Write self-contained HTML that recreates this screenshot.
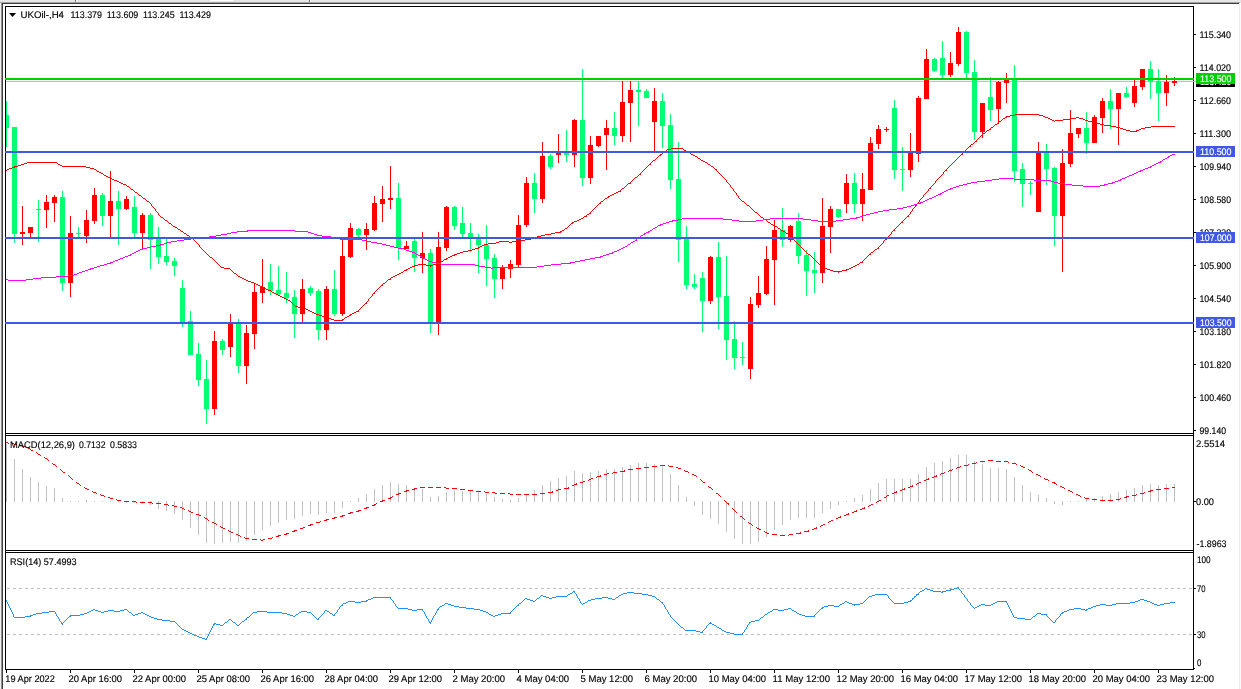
<!DOCTYPE html>
<html><head><meta charset="utf-8"><title>UKOil H4</title>
<style>html,body{margin:0;padding:0;background:#fff;overflow:hidden}svg{display:block}text{font-family:"Liberation Sans",sans-serif;font-size:9.6px;white-space:pre;text-rendering:geometricPrecision;filter:grayscale(1);stroke-width:0.15px}</style></head><body>
<svg width="1241" height="689" viewBox="0 0 1241 689" shape-rendering="crispEdges">
<rect x="0" y="0" width="1241" height="689" fill="#fff"/>
<rect x="0" y="0" width="1241" height="2" fill="#E6E6E6"/>
<rect x="0" y="2" width="1241" height="1" fill="#A4A4A4"/>
<rect x="1240" y="2" width="1" height="1" fill="#E6E6E6"/>
<rect x="1" y="3" width="1238" height="1" fill="#404040"/>
<rect x="0" y="3" width="1" height="686" fill="#F0F0F0"/>
<rect x="1" y="3" width="1" height="686" fill="#909090"/>
<rect x="2" y="3" width="1" height="686" fill="#404040"/>
<rect x="1239" y="3" width="1" height="686" fill="#ECECEC"/>
<rect x="1240" y="3" width="1" height="686" fill="#FAFAFA"/>
<rect x="75" y="0" width="1" height="2" fill="#707070"/>
<rect x="76" y="0" width="1" height="2" fill="#FFFFFF"/>
<rect x="309" y="0" width="1" height="2" fill="#707070"/>
<rect x="310" y="0" width="1" height="2" fill="#FFFFFF"/>
<rect x="210" y="0" width="23" height="1" fill="#FFFFFF"/>
<rect x="6" y="81" width="1187" height="1" fill="#C0C0C0"/>
<g>
<rect x="6" y="101" width="1" height="46" fill="#00FF72"/>
<rect x="6" y="115" width="3" height="13" fill="#00FF72"/>
<rect x="14" y="127" width="1" height="116" fill="#00FF72"/>
<rect x="12" y="127" width="5" height="107" fill="#00FF72"/>
<rect x="22" y="206" width="1" height="39" fill="#FF0000"/>
<rect x="20" y="232" width="5" height="2" fill="#FF0000"/>
<rect x="30" y="227" width="1" height="10" fill="#FF0000"/>
<rect x="28" y="227" width="5" height="6" fill="#FF0000"/>
<rect x="38" y="200" width="1" height="42" fill="#00FF72"/>
<rect x="36" y="209" width="5" height="1" fill="#00FF72"/>
<rect x="46" y="195" width="1" height="33" fill="#FF0000"/>
<rect x="44" y="202" width="5" height="8" fill="#FF0000"/>
<rect x="54" y="195" width="1" height="27" fill="#FF0000"/>
<rect x="52" y="197" width="5" height="6" fill="#FF0000"/>
<rect x="62" y="191" width="1" height="100" fill="#00FF72"/>
<rect x="60" y="197" width="5" height="86" fill="#00FF72"/>
<rect x="70" y="216" width="1" height="81" fill="#FF0000"/>
<rect x="68" y="233" width="5" height="50" fill="#FF0000"/>
<rect x="78" y="227" width="1" height="10" fill="#00FF72"/>
<rect x="76" y="233" width="5" height="1" fill="#00FF72"/>
<rect x="86" y="210" width="1" height="33" fill="#FF0000"/>
<rect x="84" y="220" width="5" height="16" fill="#FF0000"/>
<rect x="94" y="188" width="1" height="36" fill="#FF0000"/>
<rect x="92" y="195" width="5" height="26" fill="#FF0000"/>
<rect x="102" y="193" width="1" height="33" fill="#00FF72"/>
<rect x="100" y="195" width="5" height="21" fill="#00FF72"/>
<rect x="110" y="171" width="1" height="66" fill="#FF0000"/>
<rect x="108" y="201" width="5" height="15" fill="#FF0000"/>
<rect x="118" y="191" width="1" height="54" fill="#00FF72"/>
<rect x="116" y="201" width="5" height="8" fill="#00FF72"/>
<rect x="126" y="196" width="1" height="14" fill="#FF0000"/>
<rect x="124" y="199" width="5" height="10" fill="#FF0000"/>
<rect x="134" y="196" width="1" height="41" fill="#00FF72"/>
<rect x="132" y="207" width="5" height="26" fill="#00FF72"/>
<rect x="142" y="213" width="1" height="36" fill="#FF0000"/>
<rect x="140" y="215" width="5" height="18" fill="#FF0000"/>
<rect x="150" y="213" width="1" height="56" fill="#00FF72"/>
<rect x="148" y="215" width="5" height="25" fill="#00FF72"/>
<rect x="158" y="227" width="1" height="37" fill="#00FF72"/>
<rect x="156" y="239" width="5" height="18" fill="#00FF72"/>
<rect x="166" y="239" width="1" height="26" fill="#00FF72"/>
<rect x="164" y="256" width="5" height="6" fill="#00FF72"/>
<rect x="174" y="258" width="1" height="18" fill="#00FF72"/>
<rect x="172" y="261" width="5" height="5" fill="#00FF72"/>
<rect x="182" y="280" width="1" height="47" fill="#00FF72"/>
<rect x="180" y="288" width="5" height="34" fill="#00FF72"/>
<rect x="190" y="311" width="1" height="44" fill="#00FF72"/>
<rect x="188" y="321" width="5" height="34" fill="#00FF72"/>
<rect x="198" y="343" width="1" height="43" fill="#00FF72"/>
<rect x="196" y="354" width="5" height="26" fill="#00FF72"/>
<rect x="206" y="360" width="1" height="64" fill="#00FF72"/>
<rect x="204" y="379" width="5" height="30" fill="#00FF72"/>
<rect x="214" y="331" width="1" height="84" fill="#FF0000"/>
<rect x="212" y="341" width="5" height="68" fill="#FF0000"/>
<rect x="222" y="339" width="1" height="16" fill="#00FF72"/>
<rect x="220" y="341" width="5" height="9" fill="#00FF72"/>
<rect x="230" y="314" width="1" height="43" fill="#FF0000"/>
<rect x="228" y="324" width="5" height="23" fill="#FF0000"/>
<rect x="238" y="319" width="1" height="54" fill="#00FF72"/>
<rect x="236" y="324" width="5" height="42" fill="#00FF72"/>
<rect x="246" y="325" width="1" height="59" fill="#FF0000"/>
<rect x="244" y="333" width="5" height="33" fill="#FF0000"/>
<rect x="254" y="283" width="1" height="66" fill="#FF0000"/>
<rect x="252" y="292" width="5" height="42" fill="#FF0000"/>
<rect x="262" y="259" width="1" height="44" fill="#FF0000"/>
<rect x="260" y="287" width="5" height="6" fill="#FF0000"/>
<rect x="270" y="264" width="1" height="31" fill="#00FF72"/>
<rect x="268" y="282" width="5" height="9" fill="#00FF72"/>
<rect x="278" y="266" width="1" height="29" fill="#00FF72"/>
<rect x="276" y="290" width="5" height="4" fill="#00FF72"/>
<rect x="286" y="272" width="1" height="31" fill="#00FF72"/>
<rect x="284" y="293" width="5" height="5" fill="#00FF72"/>
<rect x="294" y="290" width="1" height="48" fill="#00FF72"/>
<rect x="292" y="297" width="5" height="17" fill="#00FF72"/>
<rect x="302" y="279" width="1" height="43" fill="#FF0000"/>
<rect x="300" y="289" width="5" height="25" fill="#FF0000"/>
<rect x="310" y="286" width="1" height="10" fill="#00FF72"/>
<rect x="308" y="288" width="5" height="5" fill="#00FF72"/>
<rect x="318" y="289" width="1" height="51" fill="#00FF72"/>
<rect x="316" y="291" width="5" height="39" fill="#00FF72"/>
<rect x="326" y="286" width="1" height="54" fill="#FF0000"/>
<rect x="324" y="289" width="5" height="41" fill="#FF0000"/>
<rect x="334" y="270" width="1" height="46" fill="#00FF72"/>
<rect x="332" y="289" width="5" height="25" fill="#00FF72"/>
<rect x="342" y="239" width="1" height="77" fill="#FF0000"/>
<rect x="340" y="256" width="5" height="58" fill="#FF0000"/>
<rect x="350" y="223" width="1" height="35" fill="#FF0000"/>
<rect x="348" y="228" width="5" height="29" fill="#FF0000"/>
<rect x="358" y="228" width="1" height="9" fill="#00FF72"/>
<rect x="356" y="229" width="5" height="6" fill="#00FF72"/>
<rect x="366" y="223" width="1" height="27" fill="#FF0000"/>
<rect x="364" y="229" width="5" height="6" fill="#FF0000"/>
<rect x="374" y="196" width="1" height="35" fill="#FF0000"/>
<rect x="372" y="203" width="5" height="27" fill="#FF0000"/>
<rect x="382" y="186" width="1" height="36" fill="#FF0000"/>
<rect x="380" y="199" width="5" height="5" fill="#FF0000"/>
<rect x="390" y="166" width="1" height="43" fill="#FF0000"/>
<rect x="388" y="198" width="5" height="2" fill="#FF0000"/>
<rect x="398" y="183" width="1" height="77" fill="#00FF72"/>
<rect x="396" y="198" width="5" height="50" fill="#00FF72"/>
<rect x="406" y="241" width="1" height="8" fill="#FF0000"/>
<rect x="404" y="246" width="5" height="3" fill="#FF0000"/>
<rect x="414" y="239" width="1" height="33" fill="#00FF72"/>
<rect x="412" y="241" width="5" height="17" fill="#00FF72"/>
<rect x="422" y="232" width="1" height="41" fill="#FF0000"/>
<rect x="420" y="253" width="5" height="5" fill="#FF0000"/>
<rect x="430" y="249" width="1" height="84" fill="#00FF72"/>
<rect x="428" y="253" width="5" height="70" fill="#00FF72"/>
<rect x="438" y="232" width="1" height="103" fill="#FF0000"/>
<rect x="436" y="247" width="5" height="76" fill="#FF0000"/>
<rect x="446" y="206" width="1" height="45" fill="#FF0000"/>
<rect x="444" y="207" width="5" height="41" fill="#FF0000"/>
<rect x="454" y="206" width="1" height="24" fill="#00FF72"/>
<rect x="452" y="207" width="5" height="19" fill="#00FF72"/>
<rect x="462" y="207" width="1" height="30" fill="#00FF72"/>
<rect x="460" y="223" width="5" height="11" fill="#00FF72"/>
<rect x="470" y="223" width="1" height="29" fill="#00FF72"/>
<rect x="468" y="233" width="5" height="6" fill="#00FF72"/>
<rect x="478" y="234" width="1" height="39" fill="#00FF72"/>
<rect x="476" y="238" width="5" height="7" fill="#00FF72"/>
<rect x="486" y="225" width="1" height="61" fill="#00FF72"/>
<rect x="484" y="245" width="5" height="14" fill="#00FF72"/>
<rect x="494" y="254" width="1" height="44" fill="#00FF72"/>
<rect x="492" y="258" width="5" height="21" fill="#00FF72"/>
<rect x="502" y="265" width="1" height="24" fill="#FF0000"/>
<rect x="500" y="267" width="5" height="12" fill="#FF0000"/>
<rect x="510" y="260" width="1" height="18" fill="#FF0000"/>
<rect x="508" y="264" width="5" height="5" fill="#FF0000"/>
<rect x="518" y="215" width="1" height="52" fill="#FF0000"/>
<rect x="516" y="225" width="5" height="40" fill="#FF0000"/>
<rect x="526" y="177" width="1" height="50" fill="#FF0000"/>
<rect x="524" y="183" width="5" height="42" fill="#FF0000"/>
<rect x="534" y="173" width="1" height="40" fill="#00FF72"/>
<rect x="532" y="183" width="5" height="16" fill="#00FF72"/>
<rect x="542" y="142" width="1" height="61" fill="#FF0000"/>
<rect x="540" y="156" width="5" height="43" fill="#FF0000"/>
<rect x="550" y="154" width="1" height="15" fill="#00FF72"/>
<rect x="548" y="156" width="5" height="11" fill="#00FF72"/>
<rect x="558" y="134" width="1" height="29" fill="#FF0000"/>
<rect x="556" y="152" width="5" height="3" fill="#FF0000"/>
<rect x="566" y="130" width="1" height="32" fill="#00FF72"/>
<rect x="564" y="152" width="5" height="3" fill="#00FF72"/>
<rect x="574" y="119" width="1" height="48" fill="#FF0000"/>
<rect x="572" y="120" width="5" height="35" fill="#FF0000"/>
<rect x="582" y="69" width="1" height="117" fill="#00FF72"/>
<rect x="580" y="120" width="5" height="58" fill="#00FF72"/>
<rect x="590" y="136" width="1" height="48" fill="#FF0000"/>
<rect x="588" y="145" width="5" height="33" fill="#FF0000"/>
<rect x="598" y="136" width="1" height="11" fill="#FF0000"/>
<rect x="596" y="136" width="5" height="10" fill="#FF0000"/>
<rect x="606" y="120" width="1" height="50" fill="#FF0000"/>
<rect x="604" y="128" width="5" height="7" fill="#FF0000"/>
<rect x="614" y="112" width="1" height="33" fill="#00FF72"/>
<rect x="612" y="128" width="5" height="8" fill="#00FF72"/>
<rect x="622" y="81" width="1" height="61" fill="#FF0000"/>
<rect x="620" y="102" width="5" height="34" fill="#FF0000"/>
<rect x="630" y="81" width="1" height="61" fill="#FF0000"/>
<rect x="628" y="90" width="5" height="13" fill="#FF0000"/>
<rect x="638" y="81" width="1" height="45" fill="#00FF72"/>
<rect x="636" y="90" width="5" height="2" fill="#00FF72"/>
<rect x="646" y="89" width="1" height="9" fill="#00FF72"/>
<rect x="644" y="91" width="5" height="7" fill="#00FF72"/>
<rect x="654" y="88" width="1" height="63" fill="#FF0000"/>
<rect x="652" y="101" width="5" height="21" fill="#FF0000"/>
<rect x="662" y="93" width="1" height="55" fill="#00FF72"/>
<rect x="660" y="101" width="5" height="25" fill="#00FF72"/>
<rect x="670" y="114" width="1" height="75" fill="#00FF72"/>
<rect x="668" y="125" width="5" height="55" fill="#00FF72"/>
<rect x="678" y="142" width="1" height="120" fill="#00FF72"/>
<rect x="676" y="179" width="5" height="61" fill="#00FF72"/>
<rect x="686" y="226" width="1" height="63" fill="#00FF72"/>
<rect x="684" y="238" width="5" height="47" fill="#00FF72"/>
<rect x="694" y="274" width="1" height="15" fill="#00FF72"/>
<rect x="692" y="284" width="5" height="3" fill="#00FF72"/>
<rect x="702" y="272" width="1" height="60" fill="#00FF72"/>
<rect x="700" y="278" width="5" height="23" fill="#00FF72"/>
<rect x="710" y="256" width="1" height="48" fill="#FF0000"/>
<rect x="708" y="257" width="5" height="44" fill="#FF0000"/>
<rect x="718" y="242" width="1" height="87" fill="#00FF72"/>
<rect x="716" y="257" width="5" height="40" fill="#00FF72"/>
<rect x="726" y="256" width="1" height="104" fill="#00FF72"/>
<rect x="724" y="296" width="5" height="44" fill="#00FF72"/>
<rect x="734" y="321" width="1" height="48" fill="#00FF72"/>
<rect x="732" y="339" width="5" height="19" fill="#00FF72"/>
<rect x="742" y="342" width="1" height="23" fill="#00FF72"/>
<rect x="740" y="357" width="5" height="1" fill="#00FF72"/>
<rect x="750" y="297" width="1" height="82" fill="#FF0000"/>
<rect x="748" y="304" width="5" height="65" fill="#FF0000"/>
<rect x="758" y="276" width="1" height="32" fill="#FF0000"/>
<rect x="756" y="293" width="5" height="12" fill="#FF0000"/>
<rect x="766" y="246" width="1" height="49" fill="#FF0000"/>
<rect x="764" y="259" width="5" height="35" fill="#FF0000"/>
<rect x="774" y="220" width="1" height="85" fill="#FF0000"/>
<rect x="772" y="230" width="5" height="30" fill="#FF0000"/>
<rect x="782" y="208" width="1" height="39" fill="#00FF72"/>
<rect x="780" y="230" width="5" height="10" fill="#00FF72"/>
<rect x="790" y="225" width="1" height="17" fill="#FF0000"/>
<rect x="788" y="226" width="5" height="14" fill="#FF0000"/>
<rect x="798" y="213" width="1" height="51" fill="#00FF72"/>
<rect x="796" y="221" width="5" height="35" fill="#00FF72"/>
<rect x="806" y="250" width="1" height="46" fill="#00FF72"/>
<rect x="804" y="255" width="5" height="16" fill="#00FF72"/>
<rect x="814" y="252" width="1" height="41" fill="#00FF72"/>
<rect x="812" y="270" width="5" height="3" fill="#00FF72"/>
<rect x="822" y="198" width="1" height="85" fill="#FF0000"/>
<rect x="820" y="226" width="5" height="47" fill="#FF0000"/>
<rect x="830" y="206" width="1" height="47" fill="#FF0000"/>
<rect x="828" y="209" width="5" height="18" fill="#FF0000"/>
<rect x="838" y="209" width="1" height="9" fill="#00FF72"/>
<rect x="836" y="209" width="5" height="8" fill="#00FF72"/>
<rect x="846" y="174" width="1" height="39" fill="#FF0000"/>
<rect x="844" y="183" width="5" height="21" fill="#FF0000"/>
<rect x="854" y="173" width="1" height="40" fill="#00FF72"/>
<rect x="852" y="183" width="5" height="21" fill="#00FF72"/>
<rect x="862" y="173" width="1" height="48" fill="#FF0000"/>
<rect x="860" y="189" width="5" height="15" fill="#FF0000"/>
<rect x="870" y="137" width="1" height="53" fill="#FF0000"/>
<rect x="868" y="143" width="5" height="47" fill="#FF0000"/>
<rect x="878" y="125" width="1" height="24" fill="#FF0000"/>
<rect x="876" y="129" width="5" height="15" fill="#FF0000"/>
<rect x="886" y="127" width="1" height="5" fill="#FF0000"/>
<rect x="884" y="129" width="5" height="1" fill="#FF0000"/>
<rect x="894" y="100" width="1" height="79" fill="#00FF72"/>
<rect x="892" y="108" width="5" height="62" fill="#00FF72"/>
<rect x="902" y="147" width="1" height="44" fill="#00FF72"/>
<rect x="900" y="169" width="5" height="1" fill="#00FF72"/>
<rect x="910" y="133" width="1" height="44" fill="#FF0000"/>
<rect x="908" y="151" width="5" height="19" fill="#FF0000"/>
<rect x="918" y="96" width="1" height="66" fill="#FF0000"/>
<rect x="916" y="98" width="5" height="56" fill="#FF0000"/>
<rect x="926" y="49" width="1" height="50" fill="#FF0000"/>
<rect x="924" y="59" width="5" height="40" fill="#FF0000"/>
<rect x="934" y="58" width="1" height="14" fill="#00FF72"/>
<rect x="932" y="59" width="5" height="12" fill="#00FF72"/>
<rect x="942" y="41" width="1" height="37" fill="#00FF72"/>
<rect x="940" y="58" width="5" height="17" fill="#00FF72"/>
<rect x="950" y="52" width="1" height="25" fill="#FF0000"/>
<rect x="948" y="63" width="5" height="12" fill="#FF0000"/>
<rect x="958" y="27" width="1" height="39" fill="#FF0000"/>
<rect x="956" y="32" width="5" height="32" fill="#FF0000"/>
<rect x="966" y="31" width="1" height="47" fill="#00FF72"/>
<rect x="964" y="32" width="5" height="41" fill="#00FF72"/>
<rect x="974" y="60" width="1" height="80" fill="#00FF72"/>
<rect x="972" y="72" width="5" height="60" fill="#00FF72"/>
<rect x="982" y="103" width="1" height="35" fill="#FF0000"/>
<rect x="980" y="103" width="5" height="29" fill="#FF0000"/>
<rect x="990" y="77" width="1" height="44" fill="#00FF72"/>
<rect x="988" y="97" width="5" height="13" fill="#00FF72"/>
<rect x="998" y="81" width="1" height="41" fill="#FF0000"/>
<rect x="996" y="82" width="5" height="27" fill="#FF0000"/>
<rect x="1006" y="73" width="1" height="30" fill="#FF0000"/>
<rect x="1004" y="79" width="5" height="4" fill="#FF0000"/>
<rect x="1014" y="65" width="1" height="117" fill="#00FF72"/>
<rect x="1012" y="78" width="5" height="93" fill="#00FF72"/>
<rect x="1022" y="163" width="1" height="44" fill="#00FF72"/>
<rect x="1020" y="169" width="5" height="15" fill="#00FF72"/>
<rect x="1030" y="181" width="1" height="14" fill="#00FF72"/>
<rect x="1028" y="183" width="5" height="1" fill="#00FF72"/>
<rect x="1038" y="142" width="1" height="70" fill="#FF0000"/>
<rect x="1036" y="151" width="5" height="61" fill="#FF0000"/>
<rect x="1046" y="144" width="1" height="41" fill="#00FF72"/>
<rect x="1044" y="151" width="5" height="18" fill="#00FF72"/>
<rect x="1054" y="167" width="1" height="79" fill="#00FF72"/>
<rect x="1052" y="168" width="5" height="48" fill="#00FF72"/>
<rect x="1062" y="149" width="1" height="123" fill="#FF0000"/>
<rect x="1060" y="163" width="5" height="53" fill="#FF0000"/>
<rect x="1070" y="110" width="1" height="57" fill="#FF0000"/>
<rect x="1068" y="133" width="5" height="31" fill="#FF0000"/>
<rect x="1078" y="128" width="1" height="10" fill="#FF0000"/>
<rect x="1076" y="128" width="5" height="6" fill="#FF0000"/>
<rect x="1086" y="112" width="1" height="42" fill="#00FF72"/>
<rect x="1084" y="128" width="5" height="15" fill="#00FF72"/>
<rect x="1094" y="115" width="1" height="28" fill="#FF0000"/>
<rect x="1092" y="117" width="5" height="26" fill="#FF0000"/>
<rect x="1102" y="98" width="1" height="35" fill="#FF0000"/>
<rect x="1100" y="101" width="5" height="17" fill="#FF0000"/>
<rect x="1110" y="89" width="1" height="40" fill="#00FF72"/>
<rect x="1108" y="101" width="5" height="8" fill="#00FF72"/>
<rect x="1118" y="93" width="1" height="52" fill="#FF0000"/>
<rect x="1116" y="93" width="5" height="16" fill="#FF0000"/>
<rect x="1126" y="87" width="1" height="11" fill="#00FF72"/>
<rect x="1124" y="93" width="5" height="4" fill="#00FF72"/>
<rect x="1134" y="80" width="1" height="27" fill="#FF0000"/>
<rect x="1132" y="86" width="5" height="17" fill="#FF0000"/>
<rect x="1142" y="69" width="1" height="21" fill="#FF0000"/>
<rect x="1140" y="69" width="5" height="18" fill="#FF0000"/>
<rect x="1150" y="61" width="1" height="38" fill="#00FF72"/>
<rect x="1148" y="69" width="5" height="13" fill="#00FF72"/>
<rect x="1158" y="69" width="1" height="52" fill="#00FF72"/>
<rect x="1156" y="81" width="5" height="12" fill="#00FF72"/>
<rect x="1166" y="75" width="1" height="31" fill="#FF0000"/>
<rect x="1164" y="82" width="5" height="11" fill="#FF0000"/>
<rect x="1174" y="77" width="1" height="9" fill="#FF0000"/>
<rect x="1172" y="81" width="5" height="2" fill="#FF0000"/>
</g>
<path d="M5 170h2v1h-2zM7 169h2v1h-2zM9 168h3v1h-3zM12 167h2v1h-2zM14 166h1v2h-1zM15 166h3v1h-3zM18 165h3v1h-3zM21 164h3v1h-3zM24 163h3v1h-3zM27 162h30v1h-30zM57 163h1v1h-1zM58 164h2v1h-2zM60 165h2v1h-2zM62 166h24v1h-24zM86 167h4v1h-4zM90 168h4v1h-4zM94 169h2v1h-2zM96 170h1v1h-1zM97 171h2v1h-2zM99 172h2v1h-2zM101 173h2v1h-2zM103 174h1v1h-1zM104 175h2v1h-2zM106 176h2v1h-2zM108 177h2v1h-2zM110 178h2v1h-2zM112 179h2v1h-2zM114 180h3v1h-3zM117 181h2v1h-2zM119 182h2v1h-2zM121 183h2v1h-2zM123 184h3v1h-3zM126 185h1v1h-1zM127 186h2v1h-2zM129 187h1v1h-1zM130 188h1v1h-1zM131 189h2v1h-2zM133 190h1v1h-1zM134 191h1v1h-1zM135 192h2v1h-2zM137 193h1v1h-1zM138 194h1v1h-1zM139 195h2v1h-2zM141 196h1v1h-1zM142 197h1v1h-1zM143 198h2v1h-2zM145 199h1v1h-1zM146 200h1v1h-1zM147 201h2v1h-2zM149 202h1v1h-1zM150 203h1v1h-1zM151 204h1v2h-1zM152 206h1v1h-1zM153 207h1v1h-1zM154 208h1v1h-1zM155 209h1v2h-1zM156 211h1v1h-1zM157 212h1v1h-1zM158 213h1v2h-1zM159 215h1v1h-1zM160 216h1v1h-1zM161 217h2v1h-2zM163 218h1v1h-1zM164 219h1v1h-1zM165 220h2v1h-2zM167 221h1v1h-1zM168 222h1v1h-1zM169 223h2v1h-2zM171 224h1v1h-1zM172 225h1v1h-1zM173 226h2v1h-2zM175 227h2v1h-2zM177 228h1v1h-1zM178 229h2v1h-2zM180 230h1v1h-1zM181 231h2v1h-2zM183 232h1v1h-1zM184 233h2v1h-2zM186 234h1v1h-1zM187 235h2v1h-2zM189 236h1v1h-1zM190 237h1v1h-1zM191 238h2v1h-2zM193 239h1v1h-1zM194 240h1v1h-1zM195 241h1v1h-1zM196 242h1v1h-1zM197 243h1v1h-1zM198 244h1v1h-1zM199 245h1v2h-1zM200 247h1v1h-1zM201 248h1v1h-1zM202 249h1v1h-1zM203 250h1v1h-1zM204 251h1v1h-1zM205 252h1v1h-1zM206 253h1v1h-1zM207 254h1v1h-1zM208 255h1v1h-1zM209 256h1v1h-1zM210 257h2v1h-2zM212 258h1v1h-1zM213 259h1v1h-1zM214 260h1v1h-1zM215 261h1v1h-1zM216 262h1v1h-1zM217 263h1v1h-1zM218 264h1v1h-1zM219 265h1v1h-1zM220 266h1v1h-1zM221 267h3v1h-3zM224 268h6v1h-6zM230 269h1v1h-1zM231 270h1v1h-1zM232 271h1v1h-1zM233 272h1v1h-1zM234 273h2v1h-2zM236 274h1v1h-1zM237 275h1v1h-1zM238 276h2v1h-2zM240 277h2v1h-2zM242 278h2v1h-2zM244 279h2v1h-2zM246 280h2v1h-2zM248 281h3v1h-3zM251 282h3v1h-3zM254 283h2v1h-2zM256 284h2v1h-2zM258 285h2v1h-2zM260 286h2v1h-2zM262 287h2v1h-2zM264 288h2v1h-2zM266 289h2v1h-2zM268 290h3v1h-3zM271 291h1v1h-1zM272 292h2v1h-2zM274 293h2v1h-2zM276 294h2v1h-2zM278 295h2v1h-2zM280 296h2v1h-2zM282 297h2v1h-2zM284 298h2v1h-2zM286 299h2v1h-2zM288 300h2v1h-2zM290 301h1v1h-1zM291 302h1v1h-1zM292 303h1v1h-1zM293 304h1v1h-1zM294 305h1v1h-1zM295 306h3v1h-3zM298 307h5v1h-5zM303 308h3v1h-3zM306 309h2v1h-2zM308 310h2v1h-2zM310 311h2v1h-2zM312 312h2v1h-2zM314 313h2v1h-2zM316 314h3v1h-3zM319 315h3v1h-3zM322 316h3v1h-3zM325 317h3v1h-3zM328 318h3v1h-3zM331 319h3v1h-3zM334 320h8v1h-8zM342 319h1v2h-1zM343 319h1v1h-1zM344 318h1v1h-1zM345 317h2v1h-2zM347 316h2v1h-2zM349 315h1v1h-1zM350 314h1v2h-1zM351 314h1v1h-1zM352 313h2v1h-2zM354 312h2v1h-2zM356 311h2v1h-2zM358 310h1v2h-1zM359 309h1v1h-1zM360 308h1v1h-1zM361 307h1v1h-1zM362 306h1v1h-1zM363 305h1v1h-1zM364 304h1v1h-1zM365 303h1v1h-1zM366 302h1v2h-1zM367 301h1v1h-1zM368 299h1v2h-1zM369 298h1v1h-1zM370 297h1v1h-1zM371 296h1v1h-1zM372 294h1v2h-1zM373 293h1v1h-1zM374 292h1v2h-1zM375 291h1v1h-1zM376 290h1v1h-1zM377 289h1v1h-1zM378 288h1v1h-1zM379 287h1v1h-1zM380 286h1v1h-1zM381 285h1v1h-1zM382 284h1v2h-1zM383 283h2v1h-2zM385 282h1v1h-1zM386 281h1v1h-1zM387 280h1v1h-1zM388 279h2v1h-2zM390 278h1v2h-1zM391 277h2v1h-2zM393 276h2v1h-2zM395 275h2v1h-2zM397 274h2v1h-2zM399 273h2v1h-2zM401 272h2v1h-2zM403 271h1v1h-1zM404 270h2v1h-2zM406 269h1v2h-1zM407 269h1v1h-1zM408 268h2v1h-2zM410 267h2v1h-2zM412 266h2v1h-2zM414 265h1v2h-1zM415 265h3v1h-3zM418 264h8v1h-8zM426 265h4v1h-4zM430 265h1v2h-1zM431 265h2v1h-2zM433 264h3v1h-3zM436 263h3v1h-3zM439 262h2v1h-2zM441 261h2v1h-2zM443 260h1v1h-1zM444 259h2v1h-2zM446 258h1v2h-1zM447 258h1v1h-1zM448 257h2v1h-2zM450 256h2v1h-2zM452 255h2v1h-2zM454 254h1v2h-1zM455 254h2v1h-2zM457 253h3v1h-3zM460 252h3v1h-3zM463 251h5v1h-5zM468 250h4v1h-4zM472 249h3v1h-3zM475 248h3v1h-3zM478 247h1v2h-1zM479 247h1v1h-1zM480 246h2v1h-2zM482 245h2v1h-2zM484 244h4v1h-4zM488 243h8v1h-8zM496 242h3v1h-3zM499 241h10v1h-10zM509 242h3v1h-3zM512 241h7v1h-7zM519 240h6v1h-6zM525 239h5v1h-5zM530 238h1v2h-1zM531 238h3v1h-3zM534 237h3v1h-3zM537 236h4v1h-4zM541 235h4v1h-4zM545 234h6v1h-6zM551 233h4v1h-4zM555 232h5v1h-5zM560 231h1v2h-1zM561 231h1v1h-1zM562 230h2v1h-2zM564 229h1v1h-1zM565 228h2v1h-2zM567 227h1v1h-1zM568 226h1v1h-1zM569 225h1v1h-1zM570 224h1v1h-1zM571 223h1v1h-1zM572 222h1v2h-1zM573 222h1v1h-1zM574 221h3v1h-3zM577 220h2v1h-2zM579 219h2v1h-2zM581 218h2v1h-2zM583 217h1v1h-1zM584 216h2v1h-2zM586 215h1v2h-1zM587 214h2v1h-2zM589 213h1v1h-1zM590 212h1v2h-1zM591 211h1v1h-1zM592 210h1v1h-1zM593 209h1v1h-1zM594 208h1v1h-1zM595 207h1v1h-1zM596 206h1v1h-1zM597 205h1v1h-1zM598 204h1v1h-1zM599 203h1v1h-1zM600 202h1v2h-1zM601 201h2v1h-2zM603 200h1v1h-1zM604 199h1v1h-1zM605 198h2v1h-2zM607 197h1v1h-1zM608 196h1v2h-1zM609 196h1v1h-1zM610 195h2v1h-2zM612 194h2v1h-2zM614 193h2v1h-2zM616 192h2v1h-2zM618 191h2v1h-2zM620 190h1v2h-1zM621 189h1v1h-1zM622 188h2v1h-2zM624 187h1v1h-1zM625 186h1v1h-1zM626 185h1v1h-1zM627 184h1v1h-1zM628 183h2v1h-2zM630 182h1v2h-1zM631 181h1v1h-1zM632 180h1v1h-1zM633 179h1v1h-1zM634 178h1v1h-1zM635 177h2v1h-2zM637 176h1v1h-1zM638 175h1v1h-1zM639 174h1v1h-1zM640 173h1v2h-1zM641 172h1v1h-1zM642 171h1v1h-1zM643 170h1v1h-1zM644 169h1v1h-1zM645 168h1v1h-1zM646 167h1v1h-1zM647 166h1v1h-1zM648 165h1v1h-1zM649 164h1v1h-1zM650 163h1v2h-1zM651 162h1v1h-1zM652 161h1v1h-1zM653 160h2v1h-2zM655 159h1v1h-1zM656 158h1v1h-1zM657 157h1v1h-1zM658 156h1v1h-1zM659 155h1v1h-1zM660 154h1v2h-1zM661 154h1v1h-1zM662 153h1v1h-1zM663 152h1v1h-1zM664 151h2v1h-2zM666 150h1v1h-1zM667 149h4v1h-4zM671 148h12v1h-12zM683 149h1v1h-1zM684 150h2v1h-2zM686 151h2v1h-2zM688 152h2v1h-2zM690 153h1v1h-1zM691 154h2v1h-2zM693 155h2v1h-2zM695 156h2v1h-2zM697 157h1v1h-1zM698 158h2v1h-2zM700 159h1v1h-1zM701 160h2v1h-2zM703 161h2v1h-2zM705 162h2v1h-2zM707 163h1v1h-1zM708 164h2v1h-2zM710 165h1v1h-1zM711 166h2v1h-2zM713 167h1v1h-1zM714 168h1v1h-1zM715 169h1v1h-1zM716 169h1v2h-1zM717 171h1v1h-1zM718 172h1v1h-1zM719 173h1v1h-1zM720 174h1v1h-1zM721 175h1v1h-1zM722 176h1v1h-1zM723 177h1v1h-1zM724 178h1v1h-1zM725 179h1v1h-1zM726 180h1v2h-1zM727 182h1v1h-1zM728 183h1v1h-1zM729 184h1v1h-1zM730 185h1v2h-1zM731 187h1v1h-1zM732 188h1v1h-1zM733 189h1v2h-1zM734 191h1v1h-1zM735 192h1v1h-1zM736 193h1v2h-1zM737 195h1v1h-1zM738 196h1v2h-1zM739 198h1v1h-1zM740 199h1v1h-1zM741 200h1v1h-1zM742 201h2v1h-2zM744 202h1v1h-1zM745 203h1v1h-1zM746 204h1v1h-1zM747 205h2v1h-2zM749 206h1v1h-1zM750 207h1v1h-1zM751 208h1v1h-1zM752 209h1v1h-1zM753 210h1v1h-1zM754 211h1v1h-1zM755 212h2v1h-2zM757 213h1v1h-1zM758 214h1v1h-1zM759 215h1v1h-1zM760 216h1v1h-1zM761 217h2v1h-2zM763 218h1v1h-1zM764 219h2v1h-2zM766 220h1v1h-1zM767 221h1v1h-1zM768 222h2v1h-2zM770 223h1v1h-1zM771 224h2v1h-2zM773 225h2v1h-2zM775 226h2v1h-2zM777 227h1v1h-1zM778 228h2v1h-2zM780 229h1v1h-1zM781 230h2v1h-2zM783 231h2v1h-2zM785 232h1v1h-1zM786 233h2v1h-2zM788 234h1v1h-1zM789 235h1v1h-1zM790 236h1v1h-1zM791 237h1v1h-1zM792 238h1v1h-1zM793 239h1v1h-1zM794 240h1v1h-1zM795 241h1v1h-1zM796 242h1v1h-1zM797 243h1v1h-1zM798 244h1v1h-1zM799 245h1v1h-1zM800 246h1v1h-1zM801 247h1v1h-1zM802 248h1v1h-1zM803 249h1v1h-1zM804 250h1v1h-1zM805 251h1v1h-1zM806 252h1v1h-1zM807 253h1v1h-1zM808 254h2v1h-2zM810 255h1v1h-1zM811 256h1v1h-1zM812 257h1v1h-1zM813 258h1v1h-1zM814 259h1v1h-1zM815 260h1v1h-1zM816 261h1v1h-1zM817 262h1v1h-1zM818 263h1v1h-1zM819 264h1v1h-1zM820 265h1v1h-1zM821 266h2v1h-2zM823 267h2v1h-2zM825 268h2v1h-2zM827 269h3v1h-3zM830 270h3v1h-3zM833 271h5v1h-5zM838 271h1v2h-1zM839 271h3v1h-3zM842 270h4v1h-4zM846 269h1v2h-1zM847 269h2v1h-2zM849 268h2v1h-2zM851 267h2v1h-2zM853 266h2v1h-2zM855 265h2v1h-2zM857 264h2v1h-2zM859 263h1v1h-1zM860 262h2v1h-2zM862 261h1v2h-1zM863 260h1v1h-1zM864 259h1v1h-1zM865 258h1v1h-1zM866 257h1v1h-1zM867 256h1v1h-1zM868 255h1v1h-1zM869 254h1v1h-1zM870 253h1v2h-1zM871 252h2v1h-2zM873 251h1v1h-1zM874 250h1v1h-1zM875 249h2v1h-2zM877 248h1v1h-1zM878 247h1v2h-1zM879 246h1v1h-1zM880 245h1v1h-1zM881 244h1v1h-1zM882 243h1v1h-1zM883 241h1v2h-1zM884 240h1v1h-1zM885 239h1v1h-1zM886 238h1v2h-1zM887 237h1v1h-1zM888 236h1v1h-1zM889 235h1v1h-1zM890 234h1v1h-1zM891 232h1v2h-1zM892 231h1v1h-1zM893 230h1v1h-1zM894 229h1v2h-1zM895 228h1v1h-1zM896 227h1v1h-1zM897 226h1v1h-1zM898 225h1v1h-1zM899 224h1v1h-1zM900 223h1v1h-1zM901 222h1v1h-1zM902 221h1v2h-1zM903 220h1v1h-1zM904 219h1v1h-1zM905 218h1v1h-1zM906 217h1v1h-1zM907 216h1v1h-1zM908 215h1v2h-1zM909 214h1v1h-1zM910 212h1v2h-1zM911 211h1v1h-1zM912 209h1v2h-1zM913 208h1v1h-1zM914 207h1v1h-1zM915 205h1v2h-1zM916 204h1v2h-1zM917 203h1v1h-1zM918 202h1v1h-1zM919 200h1v2h-1zM920 199h1v1h-1zM921 198h1v1h-1zM922 197h1v1h-1zM923 195h1v2h-1zM924 194h1v1h-1zM925 193h1v1h-1zM926 192h1v1h-1zM927 191h1v1h-1zM928 189h1v2h-1zM929 188h1v1h-1zM930 187h1v2h-1zM931 186h1v1h-1zM932 185h1v1h-1zM933 184h1v1h-1zM934 183h1v1h-1zM935 181h1v2h-1zM936 180h1v1h-1zM937 179h1v1h-1zM938 178h1v1h-1zM939 177h1v1h-1zM940 176h1v1h-1zM941 175h1v1h-1zM942 174h1v1h-1zM943 172h1v2h-1zM944 171h1v1h-1zM945 170h1v1h-1zM946 169h1v2h-1zM947 168h1v1h-1zM948 167h1v1h-1zM949 166h1v1h-1zM950 165h1v1h-1zM951 164h1v1h-1zM952 163h1v1h-1zM953 162h1v1h-1zM954 161h1v1h-1zM955 160h1v1h-1zM956 159h1v1h-1zM957 158h1v1h-1zM958 157h1v1h-1zM959 156h1v1h-1zM960 155h1v1h-1zM961 154h1v1h-1zM962 153h1v2h-1zM963 152h1v1h-1zM964 151h1v1h-1zM965 150h1v1h-1zM966 149h1v1h-1zM967 148h1v1h-1zM968 147h1v1h-1zM969 146h1v1h-1zM970 145h1v2h-1zM971 144h2v1h-2zM973 143h1v1h-1zM974 142h1v1h-1zM975 141h1v1h-1zM976 140h1v2h-1zM977 139h1v1h-1zM978 138h1v1h-1zM979 137h1v1h-1zM980 136h1v1h-1zM981 135h1v1h-1zM982 134h1v2h-1zM983 133h2v1h-2zM985 132h1v1h-1zM986 131h1v1h-1zM987 130h2v1h-2zM989 129h1v1h-1zM990 128h1v2h-1zM991 127h2v1h-2zM993 126h1v1h-1zM994 125h1v1h-1zM995 124h2v1h-2zM997 123h1v1h-1zM998 122h1v2h-1zM999 121h2v1h-2zM1001 120h1v1h-1zM1002 119h1v1h-1zM1003 118h2v1h-2zM1005 117h1v1h-1zM1006 116h1v2h-1zM1007 116h3v1h-3zM1010 115h5v1h-5zM1015 114h24v1h-24zM1039 115h4v1h-4zM1043 116h2v1h-2zM1045 117h3v1h-3zM1048 118h2v1h-2zM1050 119h2v1h-2zM1052 120h2v1h-2zM1054 121h1v1h-1zM1055 120h8v1h-8zM1063 119h8v1h-8zM1071 118h5v1h-5zM1076 117h3v1h-3zM1079 118h4v1h-4zM1083 119h2v1h-2zM1085 120h3v1h-3zM1088 121h4v1h-4zM1092 122h4v1h-4zM1096 123h4v1h-4zM1100 124h4v1h-4zM1104 125h7v1h-7zM1111 126h5v1h-5zM1116 127h4v1h-4zM1120 128h3v1h-3zM1123 129h3v1h-3zM1126 130h4v1h-4zM1130 131h6v1h-6zM1136 130h1v2h-1zM1137 130h2v1h-2zM1139 129h2v1h-2zM1141 128h4v1h-4zM1145 127h6v1h-6zM1151 126h24v1h-24z" fill="#FF0000"/>
<path d="M5 279h3v1h-3zM8 280h18v1h-18zM26 279h7v1h-7zM33 278h8v1h-8zM41 277h15v1h-15zM56 276h12v1h-12zM68 275h6v1h-6zM74 274h3v1h-3zM77 273h2v1h-2zM79 272h3v1h-3zM82 271h3v1h-3zM85 270h3v1h-3zM88 269h2v1h-2zM90 268h1v2h-1zM91 268h3v1h-3zM94 267h3v1h-3zM97 266h3v1h-3zM100 265h4v1h-4zM104 264h3v1h-3zM107 263h3v1h-3zM110 262h1v2h-1zM111 262h2v1h-2zM113 261h2v1h-2zM115 260h3v1h-3zM118 259h2v1h-2zM120 258h3v1h-3zM123 257h2v1h-2zM125 256h3v1h-3zM128 255h2v1h-2zM130 254h1v2h-1zM131 254h1v1h-1zM132 253h2v1h-2zM134 252h2v1h-2zM136 251h2v1h-2zM138 250h2v1h-2zM140 249h2v1h-2zM142 248h1v2h-1zM143 248h4v1h-4zM147 247h4v1h-4zM151 246h5v1h-5zM156 245h4v1h-4zM160 244h1v2h-1zM161 244h3v1h-3zM164 243h3v1h-3zM167 242h4v1h-4zM171 241h6v1h-6zM177 240h7v1h-7zM184 239h7v1h-7zM191 238h10v1h-10zM201 237h8v1h-8zM209 236h7v1h-7zM216 235h5v1h-5zM221 234h6v1h-6zM227 233h4v1h-4zM231 232h6v1h-6zM237 231h10v1h-10zM247 230h1v2h-1zM248 230h47v1h-47zM295 231h13v1h-13zM308 232h3v1h-3zM311 233h3v1h-3zM314 234h3v1h-3zM317 235h5v1h-5zM322 236h9v1h-9zM331 237h4v1h-4zM335 238h5v1h-5zM340 239h22v1h-22zM362 240h4v1h-4zM366 241h5v1h-5zM371 242h6v1h-6zM377 243h5v1h-5zM382 244h4v1h-4zM386 245h4v1h-4zM390 246h4v1h-4zM394 247h4v1h-4zM398 248h6v1h-6zM404 249h2v1h-2zM406 250h3v1h-3zM409 251h3v1h-3zM412 252h3v1h-3zM415 253h1v1h-1zM416 254h2v1h-2zM418 255h2v1h-2zM420 256h2v1h-2zM422 257h1v1h-1zM423 258h2v1h-2zM425 259h2v1h-2zM427 260h2v1h-2zM429 261h3v1h-3zM432 262h4v1h-4zM436 263h5v1h-5zM441 264h34v1h-34zM475 265h4v1h-4zM479 266h6v1h-6zM485 267h6v1h-6zM491 268h2v1h-2zM493 267h44v1h-44zM537 266h7v1h-7zM544 265h7v1h-7zM551 264h10v1h-10zM561 263h9v1h-9zM570 262h1v2h-1zM571 262h4v1h-4zM575 261h5v1h-5zM580 260h5v1h-5zM585 259h5v1h-5zM590 258h5v1h-5zM595 257h5v1h-5zM600 256h1v2h-1zM601 256h2v1h-2zM603 255h3v1h-3zM606 254h3v1h-3zM609 253h3v1h-3zM612 252h1v2h-1zM613 252h1v1h-1zM614 251h3v1h-3zM617 250h2v1h-2zM619 249h2v1h-2zM621 248h2v1h-2zM623 247h2v1h-2zM625 246h2v1h-2zM627 245h1v1h-1zM628 244h2v1h-2zM630 243h1v1h-1zM631 242h2v1h-2zM633 241h2v1h-2zM635 240h1v1h-1zM636 239h1v2h-1zM637 238h2v1h-2zM639 237h1v1h-1zM640 236h1v1h-1zM641 235h2v1h-2zM643 234h1v1h-1zM644 233h1v2h-1zM645 233h1v1h-1zM646 232h2v1h-2zM648 231h1v2h-1zM649 231h1v1h-1zM650 230h2v1h-2zM652 229h1v1h-1zM653 228h2v1h-2zM655 227h2v1h-2zM657 226h1v1h-1zM658 225h2v1h-2zM660 224h1v2h-1zM661 224h2v1h-2zM663 223h3v1h-3zM666 222h3v1h-3zM669 221h3v1h-3zM672 220h1v2h-1zM673 220h5v1h-5zM678 219h4v1h-4zM682 218h41v1h-41zM723 219h9v1h-9zM732 220h7v1h-7zM739 221h17v1h-17zM756 220h7v1h-7zM763 219h7v1h-7zM770 218h33v1h-33zM803 219h8v1h-8zM811 220h7v1h-7zM818 221h18v1h-18zM836 220h7v1h-7zM843 219h7v1h-7zM850 218h6v1h-6zM856 217h1v2h-1zM857 217h3v1h-3zM860 216h3v1h-3zM863 215h3v1h-3zM866 214h4v1h-4zM870 213h4v1h-4zM874 212h4v1h-4zM878 211h5v1h-5zM883 210h6v1h-6zM889 209h8v1h-8zM897 208h6v1h-6zM903 207h4v1h-4zM907 206h4v1h-4zM911 205h3v1h-3zM914 204h3v1h-3zM917 203h3v1h-3zM920 202h1v2h-1zM921 202h2v1h-2zM923 201h2v1h-2zM925 200h2v1h-2zM927 199h2v1h-2zM929 198h3v1h-3zM932 197h2v1h-2zM934 196h2v1h-2zM936 195h2v1h-2zM938 194h2v1h-2zM940 193h1v2h-1zM941 193h1v1h-1zM942 192h2v1h-2zM944 191h2v1h-2zM946 190h2v1h-2zM948 189h2v1h-2zM950 188h1v2h-1zM951 188h2v1h-2zM953 187h3v1h-3zM956 186h3v1h-3zM959 185h4v1h-4zM963 184h4v1h-4zM967 183h4v1h-4zM971 182h6v1h-6zM977 181h8v1h-8zM985 180h7v1h-7zM992 179h7v1h-7zM999 178h15v1h-15zM1014 179h20v1h-20zM1034 180h17v1h-17zM1051 181h3v1h-3zM1054 182h4v1h-4zM1058 183h7v1h-7zM1065 184h7v1h-7zM1072 185h11v1h-11zM1083 186h17v1h-17zM1100 185h4v1h-4zM1104 184h1v2h-1zM1105 184h3v1h-3zM1108 183h4v1h-4zM1112 182h1v2h-1zM1113 182h2v1h-2zM1115 181h3v1h-3zM1118 180h2v1h-2zM1120 179h1v2h-1zM1121 179h1v1h-1zM1122 178h3v1h-3zM1125 177h2v1h-2zM1127 176h2v1h-2zM1129 175h3v1h-3zM1132 174h2v1h-2zM1134 173h2v1h-2zM1136 172h2v1h-2zM1138 171h2v1h-2zM1140 170h1v2h-1zM1141 170h2v1h-2zM1143 169h2v1h-2zM1145 168h3v1h-3zM1148 167h2v1h-2zM1150 166h1v2h-1zM1151 166h1v1h-1zM1152 165h2v1h-2zM1154 164h2v1h-2zM1156 163h2v1h-2zM1158 162h2v1h-2zM1160 161h1v2h-1zM1161 161h1v1h-1zM1162 160h1v1h-1zM1163 159h2v1h-2zM1165 158h2v1h-2zM1167 157h1v1h-1zM1168 156h1v2h-1zM1169 156h1v1h-1zM1170 155h2v1h-2zM1172 154h3v1h-3z" fill="#FF00FF"/>
<rect x="5" y="78" width="1189" height="2" fill="#00D000"/>
<rect x="5" y="151" width="1189" height="2" fill="#4058E6"/>
<rect x="5" y="237" width="1189" height="2" fill="#4058E6"/>
<rect x="5" y="322" width="1189" height="2" fill="#4058E6"/>
<rect x="6" y="444" width="1" height="58" fill="#C0C0C0"/>
<rect x="14" y="459" width="1" height="43" fill="#C0C0C0"/>
<rect x="22" y="469" width="1" height="33" fill="#C0C0C0"/>
<rect x="30" y="477" width="1" height="25" fill="#C0C0C0"/>
<rect x="38" y="482" width="1" height="20" fill="#C0C0C0"/>
<rect x="46" y="486" width="1" height="16" fill="#C0C0C0"/>
<rect x="54" y="488" width="1" height="14" fill="#C0C0C0"/>
<rect x="62" y="498" width="1" height="4" fill="#C0C0C0"/>
<rect x="70" y="501" width="1" height="1" fill="#C0C0C0"/>
<rect x="78" y="501" width="1" height="1" fill="#C0C0C0"/>
<rect x="86" y="500" width="1" height="2" fill="#C0C0C0"/>
<rect x="94" y="501" width="1" height="1" fill="#C0C0C0"/>
<rect x="102" y="501" width="1" height="1" fill="#C0C0C0"/>
<rect x="110" y="501" width="1" height="1" fill="#C0C0C0"/>
<rect x="118" y="501" width="1" height="1" fill="#C0C0C0"/>
<rect x="126" y="501" width="1" height="2" fill="#C0C0C0"/>
<rect x="134" y="501" width="1" height="2" fill="#C0C0C0"/>
<rect x="142" y="501" width="1" height="3" fill="#C0C0C0"/>
<rect x="150" y="501" width="1" height="4" fill="#C0C0C0"/>
<rect x="158" y="501" width="1" height="8" fill="#C0C0C0"/>
<rect x="166" y="501" width="1" height="10" fill="#C0C0C0"/>
<rect x="174" y="501" width="1" height="13" fill="#C0C0C0"/>
<rect x="182" y="501" width="1" height="19" fill="#C0C0C0"/>
<rect x="190" y="501" width="1" height="27" fill="#C0C0C0"/>
<rect x="198" y="501" width="1" height="34" fill="#C0C0C0"/>
<rect x="206" y="501" width="1" height="42" fill="#C0C0C0"/>
<rect x="214" y="501" width="1" height="43" fill="#C0C0C0"/>
<rect x="222" y="501" width="1" height="42" fill="#C0C0C0"/>
<rect x="230" y="501" width="1" height="41" fill="#C0C0C0"/>
<rect x="238" y="501" width="1" height="42" fill="#C0C0C0"/>
<rect x="246" y="501" width="1" height="40" fill="#C0C0C0"/>
<rect x="254" y="501" width="1" height="34" fill="#C0C0C0"/>
<rect x="262" y="501" width="1" height="29" fill="#C0C0C0"/>
<rect x="270" y="501" width="1" height="25" fill="#C0C0C0"/>
<rect x="278" y="501" width="1" height="22" fill="#C0C0C0"/>
<rect x="286" y="501" width="1" height="19" fill="#C0C0C0"/>
<rect x="294" y="501" width="1" height="18" fill="#C0C0C0"/>
<rect x="302" y="501" width="1" height="15" fill="#C0C0C0"/>
<rect x="310" y="501" width="1" height="13" fill="#C0C0C0"/>
<rect x="318" y="501" width="1" height="14" fill="#C0C0C0"/>
<rect x="326" y="501" width="1" height="12" fill="#C0C0C0"/>
<rect x="334" y="501" width="1" height="12" fill="#C0C0C0"/>
<rect x="342" y="501" width="1" height="7" fill="#C0C0C0"/>
<rect x="350" y="501" width="1" height="1" fill="#C0C0C0"/>
<rect x="358" y="498" width="1" height="4" fill="#C0C0C0"/>
<rect x="366" y="494" width="1" height="8" fill="#C0C0C0"/>
<rect x="374" y="489" width="1" height="13" fill="#C0C0C0"/>
<rect x="382" y="485" width="1" height="17" fill="#C0C0C0"/>
<rect x="390" y="482" width="1" height="20" fill="#C0C0C0"/>
<rect x="398" y="484" width="1" height="18" fill="#C0C0C0"/>
<rect x="406" y="485" width="1" height="17" fill="#C0C0C0"/>
<rect x="414" y="489" width="1" height="13" fill="#C0C0C0"/>
<rect x="422" y="489" width="1" height="13" fill="#C0C0C0"/>
<rect x="430" y="497" width="1" height="5" fill="#C0C0C0"/>
<rect x="438" y="496" width="1" height="6" fill="#C0C0C0"/>
<rect x="446" y="492" width="1" height="10" fill="#C0C0C0"/>
<rect x="454" y="491" width="1" height="11" fill="#C0C0C0"/>
<rect x="462" y="491" width="1" height="11" fill="#C0C0C0"/>
<rect x="470" y="491" width="1" height="11" fill="#C0C0C0"/>
<rect x="478" y="492" width="1" height="10" fill="#C0C0C0"/>
<rect x="486" y="494" width="1" height="8" fill="#C0C0C0"/>
<rect x="494" y="497" width="1" height="5" fill="#C0C0C0"/>
<rect x="502" y="499" width="1" height="3" fill="#C0C0C0"/>
<rect x="510" y="500" width="1" height="2" fill="#C0C0C0"/>
<rect x="518" y="498" width="1" height="4" fill="#C0C0C0"/>
<rect x="526" y="494" width="1" height="8" fill="#C0C0C0"/>
<rect x="534" y="490" width="1" height="12" fill="#C0C0C0"/>
<rect x="542" y="485" width="1" height="17" fill="#C0C0C0"/>
<rect x="550" y="481" width="1" height="21" fill="#C0C0C0"/>
<rect x="558" y="478" width="1" height="24" fill="#C0C0C0"/>
<rect x="566" y="476" width="1" height="26" fill="#C0C0C0"/>
<rect x="574" y="471" width="1" height="31" fill="#C0C0C0"/>
<rect x="582" y="473" width="1" height="29" fill="#C0C0C0"/>
<rect x="590" y="472" width="1" height="30" fill="#C0C0C0"/>
<rect x="598" y="471" width="1" height="31" fill="#C0C0C0"/>
<rect x="606" y="469" width="1" height="33" fill="#C0C0C0"/>
<rect x="614" y="469" width="1" height="33" fill="#C0C0C0"/>
<rect x="622" y="467" width="1" height="35" fill="#C0C0C0"/>
<rect x="630" y="465" width="1" height="37" fill="#C0C0C0"/>
<rect x="638" y="463" width="1" height="39" fill="#C0C0C0"/>
<rect x="646" y="463" width="1" height="39" fill="#C0C0C0"/>
<rect x="654" y="464" width="1" height="38" fill="#C0C0C0"/>
<rect x="662" y="467" width="1" height="35" fill="#C0C0C0"/>
<rect x="670" y="474" width="1" height="28" fill="#C0C0C0"/>
<rect x="678" y="485" width="1" height="17" fill="#C0C0C0"/>
<rect x="686" y="497" width="1" height="5" fill="#C0C0C0"/>
<rect x="694" y="501" width="1" height="5" fill="#C0C0C0"/>
<rect x="702" y="501" width="1" height="14" fill="#C0C0C0"/>
<rect x="710" y="501" width="1" height="18" fill="#C0C0C0"/>
<rect x="718" y="501" width="1" height="23" fill="#C0C0C0"/>
<rect x="726" y="501" width="1" height="31" fill="#C0C0C0"/>
<rect x="734" y="501" width="1" height="38" fill="#C0C0C0"/>
<rect x="742" y="501" width="1" height="43" fill="#C0C0C0"/>
<rect x="750" y="501" width="1" height="43" fill="#C0C0C0"/>
<rect x="758" y="501" width="1" height="41" fill="#C0C0C0"/>
<rect x="766" y="501" width="1" height="36" fill="#C0C0C0"/>
<rect x="774" y="501" width="1" height="29" fill="#C0C0C0"/>
<rect x="782" y="501" width="1" height="24" fill="#C0C0C0"/>
<rect x="790" y="501" width="1" height="19" fill="#C0C0C0"/>
<rect x="798" y="501" width="1" height="17" fill="#C0C0C0"/>
<rect x="806" y="501" width="1" height="17" fill="#C0C0C0"/>
<rect x="814" y="501" width="1" height="17" fill="#C0C0C0"/>
<rect x="822" y="501" width="1" height="12" fill="#C0C0C0"/>
<rect x="830" y="501" width="1" height="8" fill="#C0C0C0"/>
<rect x="838" y="501" width="1" height="4" fill="#C0C0C0"/>
<rect x="846" y="501" width="1" height="1" fill="#C0C0C0"/>
<rect x="854" y="498" width="1" height="4" fill="#C0C0C0"/>
<rect x="862" y="495" width="1" height="7" fill="#C0C0C0"/>
<rect x="870" y="489" width="1" height="13" fill="#C0C0C0"/>
<rect x="878" y="483" width="1" height="19" fill="#C0C0C0"/>
<rect x="886" y="479" width="1" height="23" fill="#C0C0C0"/>
<rect x="894" y="479" width="1" height="23" fill="#C0C0C0"/>
<rect x="902" y="479" width="1" height="23" fill="#C0C0C0"/>
<rect x="910" y="479" width="1" height="23" fill="#C0C0C0"/>
<rect x="918" y="474" width="1" height="28" fill="#C0C0C0"/>
<rect x="926" y="467" width="1" height="35" fill="#C0C0C0"/>
<rect x="934" y="463" width="1" height="39" fill="#C0C0C0"/>
<rect x="942" y="461" width="1" height="41" fill="#C0C0C0"/>
<rect x="950" y="458" width="1" height="44" fill="#C0C0C0"/>
<rect x="958" y="455" width="1" height="47" fill="#C0C0C0"/>
<rect x="966" y="455" width="1" height="47" fill="#C0C0C0"/>
<rect x="974" y="461" width="1" height="41" fill="#C0C0C0"/>
<rect x="982" y="464" width="1" height="38" fill="#C0C0C0"/>
<rect x="990" y="468" width="1" height="34" fill="#C0C0C0"/>
<rect x="998" y="468" width="1" height="34" fill="#C0C0C0"/>
<rect x="1006" y="469" width="1" height="33" fill="#C0C0C0"/>
<rect x="1014" y="477" width="1" height="25" fill="#C0C0C0"/>
<rect x="1022" y="485" width="1" height="17" fill="#C0C0C0"/>
<rect x="1030" y="492" width="1" height="10" fill="#C0C0C0"/>
<rect x="1038" y="495" width="1" height="7" fill="#C0C0C0"/>
<rect x="1046" y="498" width="1" height="4" fill="#C0C0C0"/>
<rect x="1054" y="501" width="1" height="3" fill="#C0C0C0"/>
<rect x="1062" y="501" width="1" height="4" fill="#C0C0C0"/>
<rect x="1070" y="501" width="1" height="1" fill="#C0C0C0"/>
<rect x="1078" y="501" width="1" height="1" fill="#C0C0C0"/>
<rect x="1086" y="499" width="1" height="3" fill="#C0C0C0"/>
<rect x="1094" y="498" width="1" height="4" fill="#C0C0C0"/>
<rect x="1102" y="496" width="1" height="6" fill="#C0C0C0"/>
<rect x="1110" y="494" width="1" height="8" fill="#C0C0C0"/>
<rect x="1118" y="492" width="1" height="10" fill="#C0C0C0"/>
<rect x="1126" y="490" width="1" height="12" fill="#C0C0C0"/>
<rect x="1134" y="488" width="1" height="14" fill="#C0C0C0"/>
<rect x="1142" y="485" width="1" height="17" fill="#C0C0C0"/>
<rect x="1150" y="484" width="1" height="18" fill="#C0C0C0"/>
<rect x="1158" y="485" width="1" height="17" fill="#C0C0C0"/>
<rect x="1166" y="484" width="1" height="18" fill="#C0C0C0"/>
<rect x="1174" y="484" width="1" height="18" fill="#C0C0C0"/>
<path d="M6 442h2v1h-2zM8 443h1v1h-1zM12 443h2v1h-2zM14 444h3v1h-3zM20 445h2v1h-2zM22 446h3v1h-3zM28 448h2v1h-2zM30 449h1v1h-1zM31 450h2v1h-2zM36 452h1v1h-1zM37 453h1v1h-1zM38 454h2v1h-2zM40 455h1v1h-1zM44 457h1v1h-1zM45 458h2v1h-2zM47 459h1v1h-1zM48 460h1v1h-1zM52 463h1v1h-1zM53 464h2v1h-2zM55 465h1v1h-1zM56 466h1v1h-1zM60 469h1v1h-1zM61 470h1v1h-1zM62 471h1v1h-1zM63 472h2v1h-2zM68 475h1v1h-1zM69 476h1v1h-1zM70 477h1v1h-1zM71 478h1v1h-1zM72 479h1v1h-1zM76 482h1v1h-1zM77 483h2v1h-2zM79 484h1v1h-1zM80 485h1v1h-1zM84 487h1v1h-1zM85 488h2v1h-2zM87 489h2v1h-2zM92 491h1v1h-1zM93 492h3v1h-3zM96 493h1v1h-1zM100 494h1v1h-1zM101 495h3v1h-3zM104 496h1v1h-1zM108 497h2v1h-2zM110 498h3v1h-3zM116 499h1v1h-1zM117 500h4v1h-4zM124 501h5v1h-5zM132 501h4v1h-4zM136 502h1v1h-1zM140 502h5v1h-5zM148 502h4v1h-4zM152 503h1v1h-1zM156 503h5v1h-5zM164 504h4v1h-4zM168 505h1v1h-1zM172 505h2v1h-2zM174 506h3v1h-3zM180 507h2v1h-2zM182 508h2v1h-2zM184 509h1v1h-1zM188 510h1v1h-1zM189 511h2v1h-2zM191 512h2v1h-2zM196 514h3v1h-3zM199 515h2v1h-2zM204 517h1v1h-1zM205 518h2v1h-2zM207 519h1v1h-1zM208 520h1v1h-1zM212 522h2v1h-2zM214 523h2v1h-2zM216 524h1v1h-1zM220 526h1v1h-1zM221 527h2v1h-2zM223 528h2v1h-2zM228 530h1v1h-1zM229 531h2v1h-2zM231 532h2v1h-2zM236 534h2v1h-2zM238 535h2v1h-2zM240 536h1v1h-1zM244 537h1v1h-1zM245 538h4v1h-4zM252 539h5v1h-5zM260 539h1v1h-1zM261 540h2v1h-2zM263 539h2v1h-2zM268 538h4v1h-4zM272 537h1v1h-1zM276 536h2v1h-2zM278 535h1v2h-1zM279 535h2v1h-2zM284 534h2v1h-2zM286 533h1v2h-1zM287 533h2v1h-2zM292 531h2v1h-2zM294 530h1v2h-1zM295 530h2v1h-2zM300 528h3v1h-3zM303 527h2v1h-2zM308 525h2v1h-2zM310 524h1v2h-1zM311 524h2v1h-2zM316 522h4v1h-4zM320 521h1v1h-1zM324 520h2v1h-2zM326 519h1v2h-1zM327 519h2v1h-2zM332 518h2v1h-2zM334 517h1v2h-1zM335 517h2v1h-2zM340 516h2v1h-2zM342 515h1v2h-1zM343 515h2v1h-2zM348 513h2v1h-2zM350 512h1v2h-1zM351 512h2v1h-2zM356 511h2v1h-2zM358 510h1v2h-1zM359 510h2v1h-2zM364 508h2v1h-2zM366 507h1v2h-1zM367 507h2v1h-2zM372 505h2v1h-2zM374 504h1v2h-1zM375 504h1v1h-1zM376 503h1v1h-1zM380 501h2v1h-2zM382 500h1v2h-1zM383 500h2v1h-2zM388 498h2v1h-2zM390 497h1v2h-1zM391 497h1v1h-1zM392 496h1v1h-1zM396 494h2v1h-2zM398 493h1v2h-1zM399 493h2v1h-2zM404 491h2v1h-2zM406 490h1v2h-1zM407 490h2v1h-2zM412 489h2v1h-2zM414 488h1v2h-1zM415 488h2v1h-2zM420 487h5v1h-5zM428 487h5v1h-5zM436 487h5v1h-5zM444 487h2v1h-2zM446 488h3v1h-3zM452 488h5v1h-5zM460 489h5v1h-5zM468 490h5v1h-5zM476 491h5v1h-5zM484 491h1v1h-1zM485 492h4v1h-4zM492 492h3v1h-3zM495 493h2v1h-2zM500 493h5v1h-5zM508 493h2v1h-2zM510 494h3v1h-3zM516 494h5v1h-5zM524 494h5v1h-5zM532 494h5v1h-5zM540 493h5v1h-5zM548 492h4v1h-4zM552 491h1v2h-1zM556 490h2v1h-2zM558 489h3v1h-3zM564 488h4v1h-4zM568 487h1v2h-1zM572 485h2v1h-2zM574 484h2v1h-2zM576 483h1v2h-1zM580 482h3v1h-3zM583 481h2v1h-2zM588 480h1v1h-1zM589 479h2v1h-2zM591 478h2v1h-2zM596 477h1v1h-1zM597 476h3v1h-3zM600 475h1v2h-1zM604 474h3v1h-3zM607 473h2v1h-2zM612 473h1v1h-1zM613 472h4v1h-4zM620 471h4v1h-4zM624 470h1v2h-1zM628 469h5v1h-5zM636 468h5v1h-5zM644 467h5v1h-5zM652 466h5v1h-5zM660 465h5v1h-5zM668 465h1v1h-1zM669 466h4v1h-4zM676 467h2v1h-2zM678 468h3v1h-3zM684 470h1v1h-1zM685 471h3v1h-3zM688 472h1v1h-1zM692 474h2v1h-2zM694 475h2v1h-2zM696 476h1v1h-1zM700 479h1v1h-1zM701 480h1v1h-1zM702 481h1v1h-1zM703 482h2v1h-2zM708 486h1v1h-1zM709 487h2v1h-2zM711 488h1v1h-1zM712 489h1v1h-1zM716 493h2v1h-2zM718 494h1v1h-1zM719 495h1v1h-1zM720 496h1v1h-1zM724 500h1v1h-1zM725 501h1v1h-1zM726 502h1v1h-1zM727 503h1v1h-1zM728 503h1v2h-1zM732 508h1v1h-1zM733 509h1v1h-1zM734 510h1v1h-1zM735 511h1v1h-1zM736 512h1v1h-1zM740 516h2v1h-2zM742 517h1v1h-1zM743 518h1v1h-1zM744 519h1v1h-1zM748 522h1v1h-1zM749 523h2v1h-2zM751 524h1v1h-1zM752 525h1v1h-1zM756 527h1v1h-1zM757 528h2v1h-2zM759 529h2v1h-2zM764 531h1v1h-1zM765 532h2v1h-2zM767 533h2v1h-2zM772 534h5v1h-5zM780 535h5v1h-5zM788 535h1v1h-1zM789 534h4v1h-4zM796 533h4v1h-4zM800 532h1v2h-1zM804 531h4v1h-4zM808 530h1v2h-1zM812 529h2v1h-2zM814 528h2v1h-2zM816 527h1v2h-1zM820 526h1v1h-1zM821 525h2v1h-2zM823 524h2v1h-2zM828 522h1v1h-1zM829 521h2v1h-2zM831 520h2v1h-2zM836 518h2v1h-2zM838 517h2v1h-2zM840 516h1v2h-1zM844 515h2v1h-2zM846 514h2v1h-2zM848 513h1v2h-1zM852 512h2v1h-2zM854 511h2v1h-2zM856 510h1v2h-1zM860 509h2v1h-2zM862 508h2v1h-2zM864 507h1v2h-1zM868 506h1v1h-1zM869 505h2v1h-2zM871 504h2v1h-2zM876 502h1v1h-1zM877 501h2v1h-2zM879 500h2v1h-2zM884 497h2v1h-2zM886 496h1v1h-1zM887 495h2v1h-2zM892 493h2v1h-2zM894 492h2v1h-2zM896 491h1v2h-1zM900 490h2v1h-2zM902 489h2v1h-2zM904 488h1v2h-1zM908 487h2v1h-2zM910 486h2v1h-2zM912 485h1v2h-1zM916 484h1v1h-1zM917 483h2v1h-2zM919 482h2v1h-2zM924 480h2v1h-2zM926 479h2v1h-2zM928 478h1v2h-1zM932 477h2v1h-2zM934 476h2v1h-2zM936 475h1v2h-1zM940 474h1v1h-1zM941 473h3v1h-3zM944 472h1v1h-1zM948 471h1v1h-1zM949 470h3v1h-3zM952 469h1v1h-1zM956 468h1v1h-1zM957 467h3v1h-3zM960 466h1v1h-1zM964 465h4v1h-4zM968 464h1v1h-1zM972 463h4v1h-4zM976 462h1v1h-1zM980 461h5v1h-5zM988 460h5v1h-5zM996 461h5v1h-5zM1004 461h4v1h-4zM1008 462h1v1h-1zM1012 463h4v1h-4zM1016 464h1v1h-1zM1020 465h1v1h-1zM1021 466h2v1h-2zM1023 467h2v1h-2zM1028 469h1v1h-1zM1029 470h2v1h-2zM1031 471h1v1h-1zM1032 472h1v1h-1zM1036 474h2v1h-2zM1038 475h2v1h-2zM1040 476h1v1h-1zM1044 478h1v1h-1zM1045 479h3v1h-3zM1048 480h1v1h-1zM1052 482h2v1h-2zM1054 482h1v2h-1zM1055 483h1v1h-1zM1056 484h1v1h-1zM1060 486h2v1h-2zM1062 487h2v1h-2zM1064 488h1v1h-1zM1068 490h2v1h-2zM1070 491h2v1h-2zM1072 492h1v1h-1zM1076 494h2v1h-2zM1078 495h2v1h-2zM1080 496h1v1h-1zM1084 497h1v1h-1zM1085 498h4v1h-4zM1092 499h5v1h-5zM1100 500h5v1h-5zM1108 500h5v1h-5zM1116 499h4v1h-4zM1120 498h1v1h-1zM1124 497h2v1h-2zM1126 496h1v2h-1zM1127 496h2v1h-2zM1132 495h4v1h-4zM1136 494h1v1h-1zM1140 493h4v1h-4zM1144 492h1v1h-1zM1148 491h2v1h-2zM1150 490h1v2h-1zM1151 490h2v1h-2zM1156 489h5v1h-5zM1164 488h5v1h-5zM1172 487h3v1h-3z" fill="#FF0000"/>
<path d="M7 588h3v1h-3zM13 588h3v1h-3zM19 588h3v1h-3zM25 588h3v1h-3zM31 588h3v1h-3zM37 588h3v1h-3zM43 588h3v1h-3zM49 588h3v1h-3zM55 588h3v1h-3zM61 588h3v1h-3zM67 588h3v1h-3zM73 588h3v1h-3zM79 588h3v1h-3zM85 588h3v1h-3zM91 588h3v1h-3zM97 588h3v1h-3zM103 588h3v1h-3zM109 588h3v1h-3zM115 588h3v1h-3zM121 588h3v1h-3zM127 588h3v1h-3zM133 588h3v1h-3zM139 588h3v1h-3zM145 588h3v1h-3zM151 588h3v1h-3zM157 588h3v1h-3zM163 588h3v1h-3zM169 588h3v1h-3zM175 588h3v1h-3zM181 588h3v1h-3zM187 588h3v1h-3zM193 588h3v1h-3zM199 588h3v1h-3zM205 588h3v1h-3zM211 588h3v1h-3zM217 588h3v1h-3zM223 588h3v1h-3zM229 588h3v1h-3zM235 588h3v1h-3zM241 588h3v1h-3zM247 588h3v1h-3zM253 588h3v1h-3zM259 588h3v1h-3zM265 588h3v1h-3zM271 588h3v1h-3zM277 588h3v1h-3zM283 588h3v1h-3zM289 588h3v1h-3zM295 588h3v1h-3zM301 588h3v1h-3zM307 588h3v1h-3zM313 588h3v1h-3zM319 588h3v1h-3zM325 588h3v1h-3zM331 588h3v1h-3zM337 588h3v1h-3zM343 588h3v1h-3zM349 588h3v1h-3zM355 588h3v1h-3zM361 588h3v1h-3zM367 588h3v1h-3zM373 588h3v1h-3zM379 588h3v1h-3zM385 588h3v1h-3zM391 588h3v1h-3zM397 588h3v1h-3zM403 588h3v1h-3zM409 588h3v1h-3zM415 588h3v1h-3zM421 588h3v1h-3zM427 588h3v1h-3zM433 588h3v1h-3zM439 588h3v1h-3zM445 588h3v1h-3zM451 588h3v1h-3zM457 588h3v1h-3zM463 588h3v1h-3zM469 588h3v1h-3zM475 588h3v1h-3zM481 588h3v1h-3zM487 588h3v1h-3zM493 588h3v1h-3zM499 588h3v1h-3zM505 588h3v1h-3zM511 588h3v1h-3zM517 588h3v1h-3zM523 588h3v1h-3zM529 588h3v1h-3zM535 588h3v1h-3zM541 588h3v1h-3zM547 588h3v1h-3zM553 588h3v1h-3zM559 588h3v1h-3zM565 588h3v1h-3zM571 588h3v1h-3zM577 588h3v1h-3zM583 588h3v1h-3zM589 588h3v1h-3zM595 588h3v1h-3zM601 588h3v1h-3zM607 588h3v1h-3zM613 588h3v1h-3zM619 588h3v1h-3zM625 588h3v1h-3zM631 588h3v1h-3zM637 588h3v1h-3zM643 588h3v1h-3zM649 588h3v1h-3zM655 588h3v1h-3zM661 588h3v1h-3zM667 588h3v1h-3zM673 588h3v1h-3zM679 588h3v1h-3zM685 588h3v1h-3zM691 588h3v1h-3zM697 588h3v1h-3zM703 588h3v1h-3zM709 588h3v1h-3zM715 588h3v1h-3zM721 588h3v1h-3zM727 588h3v1h-3zM733 588h3v1h-3zM739 588h3v1h-3zM745 588h3v1h-3zM751 588h3v1h-3zM757 588h3v1h-3zM763 588h3v1h-3zM769 588h3v1h-3zM775 588h3v1h-3zM781 588h3v1h-3zM787 588h3v1h-3zM793 588h3v1h-3zM799 588h3v1h-3zM805 588h3v1h-3zM811 588h3v1h-3zM817 588h3v1h-3zM823 588h3v1h-3zM829 588h3v1h-3zM835 588h3v1h-3zM841 588h3v1h-3zM847 588h3v1h-3zM853 588h3v1h-3zM859 588h3v1h-3zM865 588h3v1h-3zM871 588h3v1h-3zM877 588h3v1h-3zM883 588h3v1h-3zM889 588h3v1h-3zM895 588h3v1h-3zM901 588h3v1h-3zM907 588h3v1h-3zM913 588h3v1h-3zM919 588h3v1h-3zM925 588h3v1h-3zM931 588h3v1h-3zM937 588h3v1h-3zM943 588h3v1h-3zM949 588h3v1h-3zM955 588h3v1h-3zM961 588h3v1h-3zM967 588h3v1h-3zM973 588h3v1h-3zM979 588h3v1h-3zM985 588h3v1h-3zM991 588h3v1h-3zM997 588h3v1h-3zM1003 588h3v1h-3zM1009 588h3v1h-3zM1015 588h3v1h-3zM1021 588h3v1h-3zM1027 588h3v1h-3zM1033 588h3v1h-3zM1039 588h3v1h-3zM1045 588h3v1h-3zM1051 588h3v1h-3zM1057 588h3v1h-3zM1063 588h3v1h-3zM1069 588h3v1h-3zM1075 588h3v1h-3zM1081 588h3v1h-3zM1087 588h3v1h-3zM1093 588h3v1h-3zM1099 588h3v1h-3zM1105 588h3v1h-3zM1111 588h3v1h-3zM1117 588h3v1h-3zM1123 588h3v1h-3zM1129 588h3v1h-3zM1135 588h3v1h-3zM1141 588h3v1h-3zM1147 588h3v1h-3zM1153 588h3v1h-3zM1159 588h3v1h-3zM1165 588h3v1h-3zM1171 588h3v1h-3zM1177 588h3v1h-3zM1183 588h3v1h-3zM1189 588h3v1h-3z" fill="#C0C0C0"/>
<path d="M7 634h3v1h-3zM13 634h3v1h-3zM19 634h3v1h-3zM25 634h3v1h-3zM31 634h3v1h-3zM37 634h3v1h-3zM43 634h3v1h-3zM49 634h3v1h-3zM55 634h3v1h-3zM61 634h3v1h-3zM67 634h3v1h-3zM73 634h3v1h-3zM79 634h3v1h-3zM85 634h3v1h-3zM91 634h3v1h-3zM97 634h3v1h-3zM103 634h3v1h-3zM109 634h3v1h-3zM115 634h3v1h-3zM121 634h3v1h-3zM127 634h3v1h-3zM133 634h3v1h-3zM139 634h3v1h-3zM145 634h3v1h-3zM151 634h3v1h-3zM157 634h3v1h-3zM163 634h3v1h-3zM169 634h3v1h-3zM175 634h3v1h-3zM181 634h3v1h-3zM187 634h3v1h-3zM193 634h3v1h-3zM199 634h3v1h-3zM205 634h3v1h-3zM211 634h3v1h-3zM217 634h3v1h-3zM223 634h3v1h-3zM229 634h3v1h-3zM235 634h3v1h-3zM241 634h3v1h-3zM247 634h3v1h-3zM253 634h3v1h-3zM259 634h3v1h-3zM265 634h3v1h-3zM271 634h3v1h-3zM277 634h3v1h-3zM283 634h3v1h-3zM289 634h3v1h-3zM295 634h3v1h-3zM301 634h3v1h-3zM307 634h3v1h-3zM313 634h3v1h-3zM319 634h3v1h-3zM325 634h3v1h-3zM331 634h3v1h-3zM337 634h3v1h-3zM343 634h3v1h-3zM349 634h3v1h-3zM355 634h3v1h-3zM361 634h3v1h-3zM367 634h3v1h-3zM373 634h3v1h-3zM379 634h3v1h-3zM385 634h3v1h-3zM391 634h3v1h-3zM397 634h3v1h-3zM403 634h3v1h-3zM409 634h3v1h-3zM415 634h3v1h-3zM421 634h3v1h-3zM427 634h3v1h-3zM433 634h3v1h-3zM439 634h3v1h-3zM445 634h3v1h-3zM451 634h3v1h-3zM457 634h3v1h-3zM463 634h3v1h-3zM469 634h3v1h-3zM475 634h3v1h-3zM481 634h3v1h-3zM487 634h3v1h-3zM493 634h3v1h-3zM499 634h3v1h-3zM505 634h3v1h-3zM511 634h3v1h-3zM517 634h3v1h-3zM523 634h3v1h-3zM529 634h3v1h-3zM535 634h3v1h-3zM541 634h3v1h-3zM547 634h3v1h-3zM553 634h3v1h-3zM559 634h3v1h-3zM565 634h3v1h-3zM571 634h3v1h-3zM577 634h3v1h-3zM583 634h3v1h-3zM589 634h3v1h-3zM595 634h3v1h-3zM601 634h3v1h-3zM607 634h3v1h-3zM613 634h3v1h-3zM619 634h3v1h-3zM625 634h3v1h-3zM631 634h3v1h-3zM637 634h3v1h-3zM643 634h3v1h-3zM649 634h3v1h-3zM655 634h3v1h-3zM661 634h3v1h-3zM667 634h3v1h-3zM673 634h3v1h-3zM679 634h3v1h-3zM685 634h3v1h-3zM691 634h3v1h-3zM697 634h3v1h-3zM703 634h3v1h-3zM709 634h3v1h-3zM715 634h3v1h-3zM721 634h3v1h-3zM727 634h3v1h-3zM733 634h3v1h-3zM739 634h3v1h-3zM745 634h3v1h-3zM751 634h3v1h-3zM757 634h3v1h-3zM763 634h3v1h-3zM769 634h3v1h-3zM775 634h3v1h-3zM781 634h3v1h-3zM787 634h3v1h-3zM793 634h3v1h-3zM799 634h3v1h-3zM805 634h3v1h-3zM811 634h3v1h-3zM817 634h3v1h-3zM823 634h3v1h-3zM829 634h3v1h-3zM835 634h3v1h-3zM841 634h3v1h-3zM847 634h3v1h-3zM853 634h3v1h-3zM859 634h3v1h-3zM865 634h3v1h-3zM871 634h3v1h-3zM877 634h3v1h-3zM883 634h3v1h-3zM889 634h3v1h-3zM895 634h3v1h-3zM901 634h3v1h-3zM907 634h3v1h-3zM913 634h3v1h-3zM919 634h3v1h-3zM925 634h3v1h-3zM931 634h3v1h-3zM937 634h3v1h-3zM943 634h3v1h-3zM949 634h3v1h-3zM955 634h3v1h-3zM961 634h3v1h-3zM967 634h3v1h-3zM973 634h3v1h-3zM979 634h3v1h-3zM985 634h3v1h-3zM991 634h3v1h-3zM997 634h3v1h-3zM1003 634h3v1h-3zM1009 634h3v1h-3zM1015 634h3v1h-3zM1021 634h3v1h-3zM1027 634h3v1h-3zM1033 634h3v1h-3zM1039 634h3v1h-3zM1045 634h3v1h-3zM1051 634h3v1h-3zM1057 634h3v1h-3zM1063 634h3v1h-3zM1069 634h3v1h-3zM1075 634h3v1h-3zM1081 634h3v1h-3zM1087 634h3v1h-3zM1093 634h3v1h-3zM1099 634h3v1h-3zM1105 634h3v1h-3zM1111 634h3v1h-3zM1117 634h3v1h-3zM1123 634h3v1h-3zM1129 634h3v1h-3zM1135 634h3v1h-3zM1141 634h3v1h-3zM1147 634h3v1h-3zM1153 634h3v1h-3zM1159 634h3v1h-3zM1165 634h3v1h-3zM1171 634h3v1h-3zM1177 634h3v1h-3zM1183 634h3v1h-3zM1189 634h3v1h-3z" fill="#C0C0C0"/>
<path d="M6 600h1v2h-1zM7 602h1v2h-1zM8 604h1v2h-1zM9 606h1v2h-1zM10 608h1v2h-1zM11 610h1v2h-1zM12 612h1v2h-1zM13 614h1v3h-1zM14 617h11v1h-11zM25 616h5v1h-5zM30 615h1v2h-1zM31 615h2v1h-2zM33 614h3v1h-3zM36 613h6v1h-6zM42 612h7v1h-7zM49 611h6v1h-6zM55 612h1v2h-1zM56 614h1v2h-1zM57 616h1v1h-1zM58 617h1v2h-1zM59 619h1v2h-1zM60 621h1v1h-1zM61 622h1v2h-1zM62 623h1v2h-1zM63 622h1v1h-1zM64 621h1v1h-1zM65 620h1v1h-1zM66 619h1v1h-1zM67 618h1v1h-1zM68 617h1v1h-1zM69 616h1v1h-1zM70 615h1v2h-1zM71 615h9v1h-9zM80 614h4v1h-4zM84 613h3v1h-3zM87 612h2v1h-2zM89 611h2v1h-2zM91 610h2v1h-2zM93 609h2v1h-2zM95 610h3v1h-3zM98 611h3v1h-3zM101 612h3v1h-3zM104 611h4v1h-4zM108 610h6v1h-6zM114 611h6v1h-6zM120 610h4v1h-4zM124 609h3v1h-3zM127 610h1v1h-1zM128 611h1v1h-1zM129 612h2v1h-2zM131 613h1v1h-1zM132 614h1v1h-1zM133 615h2v1h-2zM135 614h3v1h-3zM138 613h3v1h-3zM141 612h2v1h-2zM143 613h2v1h-2zM145 614h2v1h-2zM147 615h2v1h-2zM149 616h2v1h-2zM151 617h3v1h-3zM154 618h3v1h-3zM157 619h5v1h-5zM162 620h8v1h-8zM170 621h5v1h-5zM175 622h1v1h-1zM176 623h1v1h-1zM177 624h1v1h-1zM178 625h1v1h-1zM179 626h1v1h-1zM180 627h1v1h-1zM181 628h1v1h-1zM182 629h2v1h-2zM184 630h2v1h-2zM186 631h2v1h-2zM188 632h2v1h-2zM190 633h2v1h-2zM192 634h2v1h-2zM194 635h3v1h-3zM197 636h2v1h-2zM199 637h3v1h-3zM202 638h3v1h-3zM205 639h1v1h-1zM206 638h1v2h-1zM207 636h1v2h-1zM208 634h1v2h-1zM209 632h1v2h-1zM210 630h1v2h-1zM211 628h1v2h-1zM212 626h1v2h-1zM213 624h1v2h-1zM214 623h1v2h-1zM215 623h1v1h-1zM216 624h4v1h-4zM220 625h3v1h-3zM223 624h1v1h-1zM224 623h1v1h-1zM225 622h2v1h-2zM227 621h1v1h-1zM228 620h1v1h-1zM229 619h2v1h-2zM231 620h1v1h-1zM232 621h1v1h-1zM233 622h2v1h-2zM235 623h1v1h-1zM236 624h1v1h-1zM237 625h2v1h-2zM239 624h1v1h-1zM240 623h1v1h-1zM241 622h1v1h-1zM242 621h2v1h-2zM244 620h1v1h-1zM245 619h1v1h-1zM246 618h1v2h-1zM247 617h2v1h-2zM249 616h1v1h-1zM250 615h1v1h-1zM251 614h1v1h-1zM252 613h1v1h-1zM253 612h4v1h-4zM257 611h10v1h-10zM267 612h15v1h-15zM282 613h5v1h-5zM287 614h3v1h-3zM290 615h3v1h-3zM293 616h2v1h-2zM295 615h1v1h-1zM296 614h2v1h-2zM298 613h1v1h-1zM299 612h2v1h-2zM301 611h6v1h-6zM307 612h4v1h-4zM311 613h1v1h-1zM312 614h1v1h-1zM313 615h1v1h-1zM314 616h1v1h-1zM315 617h1v1h-1zM316 618h1v1h-1zM317 619h1v1h-1zM318 618h1v2h-1zM319 617h1v1h-1zM320 616h1v1h-1zM321 615h1v1h-1zM322 614h1v1h-1zM323 613h1v1h-1zM324 611h1v2h-1zM325 610h2v1h-2zM327 611h2v1h-2zM329 612h1v1h-1zM330 613h2v1h-2zM332 614h1v1h-1zM333 615h1v1h-1zM334 614h1v2h-1zM335 613h1v1h-1zM336 612h1v1h-1zM337 610h1v2h-1zM338 609h1v1h-1zM339 607h1v2h-1zM340 606h1v1h-1zM341 605h1v1h-1zM342 604h1v2h-1zM343 603h3v1h-3zM346 602h2v1h-2zM348 601h7v1h-7zM355 602h6v1h-6zM361 601h5v1h-5zM366 600h1v2h-1zM367 600h1v1h-1zM368 599h3v1h-3zM371 598h2v1h-2zM373 597h17v1h-17zM390 597h1v2h-1zM391 599h1v1h-1zM392 600h1v1h-1zM393 601h1v2h-1zM394 603h1v1h-1zM395 604h1v2h-1zM396 606h1v1h-1zM397 607h1v1h-1zM398 608h10v1h-10zM408 609h4v1h-4zM412 610h5v1h-5zM417 609h5v1h-5zM422 609h1v2h-1zM423 611h1v1h-1zM424 612h1v2h-1zM425 614h1v2h-1zM426 616h1v2h-1zM427 618h1v1h-1zM428 619h1v2h-1zM429 621h1v2h-1zM430 622h1v2h-1zM431 620h1v2h-1zM432 618h1v2h-1zM433 616h1v2h-1zM434 615h1v1h-1zM435 613h1v2h-1zM436 611h1v2h-1zM437 609h1v2h-1zM438 608h1v2h-1zM439 607h1v1h-1zM440 606h2v1h-2zM442 605h2v1h-2zM444 604h1v1h-1zM445 603h3v1h-3zM448 604h3v1h-3zM451 605h3v1h-3zM454 606h5v1h-5zM459 607h7v1h-7zM466 608h8v1h-8zM474 609h6v1h-6zM480 610h3v1h-3zM483 611h3v1h-3zM486 612h2v1h-2zM488 613h1v1h-1zM489 614h2v1h-2zM491 615h2v1h-2zM493 616h2v1h-2zM495 615h3v1h-3zM498 614h3v1h-3zM501 613h9v1h-9zM510 612h1v2h-1zM511 611h1v1h-1zM512 610h1v1h-1zM513 609h1v1h-1zM514 608h1v1h-1zM515 607h1v1h-1zM516 606h1v1h-1zM517 605h1v1h-1zM518 604h1v2h-1zM519 603h2v1h-2zM521 602h1v1h-1zM522 601h1v1h-1zM523 600h1v1h-1zM524 599h1v1h-1zM525 598h2v1h-2zM527 599h3v1h-3zM530 600h3v1h-3zM533 601h2v1h-2zM535 600h1v1h-1zM536 599h1v1h-1zM537 598h2v1h-2zM539 597h1v1h-1zM540 596h1v1h-1zM541 595h2v1h-2zM543 596h3v1h-3zM546 597h3v1h-3zM549 598h3v1h-3zM552 597h4v1h-4zM556 596h11v1h-11zM567 595h1v1h-1zM568 594h2v1h-2zM570 593h2v1h-2zM572 592h1v1h-1zM573 591h1v1h-1zM574 591h1v2h-1zM575 593h1v1h-1zM576 594h1v2h-1zM577 596h1v2h-1zM578 598h1v1h-1zM579 599h1v2h-1zM580 601h1v2h-1zM581 603h1v1h-1zM582 604h1v1h-1zM583 603h2v1h-2zM585 602h2v1h-2zM587 601h1v1h-1zM588 600h3v1h-3zM591 599h4v1h-4zM595 598h7v1h-7zM602 597h6v1h-6zM608 598h4v1h-4zM612 599h3v1h-3zM615 598h1v1h-1zM616 597h2v1h-2zM618 596h1v1h-1zM619 595h2v1h-2zM621 594h2v1h-2zM623 593h4v1h-4zM627 592h7v1h-7zM634 593h8v1h-8zM642 594h6v1h-6zM648 595h4v1h-4zM652 596h3v1h-3zM655 597h1v1h-1zM656 598h1v1h-1zM657 599h2v1h-2zM659 600h1v1h-1zM660 601h1v1h-1zM661 602h1v1h-1zM662 602h1v2h-1zM663 604h1v1h-1zM664 605h1v2h-1zM665 607h1v2h-1zM666 609h1v1h-1zM667 610h1v2h-1zM668 612h1v2h-1zM669 614h1v1h-1zM670 615h1v2h-1zM671 617h1v1h-1zM672 618h1v1h-1zM673 619h1v1h-1zM674 620h1v1h-1zM675 621h1v1h-1zM676 622h1v1h-1zM677 623h1v1h-1zM678 624h1v1h-1zM679 625h1v1h-1zM680 626h1v1h-1zM681 627h2v1h-2zM683 628h1v1h-1zM684 629h1v1h-1zM685 630h11v1h-11zM696 631h4v1h-4zM700 632h2v1h-2zM702 631h1v2h-1zM703 630h1v1h-1zM704 629h1v1h-1zM705 628h1v1h-1zM706 626h1v2h-1zM707 625h1v1h-1zM708 624h1v1h-1zM709 623h1v1h-1zM710 622h1v2h-1zM711 623h1v1h-1zM712 624h2v1h-2zM714 625h2v1h-2zM716 626h1v1h-1zM717 627h2v1h-2zM719 628h2v1h-2zM721 629h1v1h-1zM722 630h2v1h-2zM724 631h2v1h-2zM726 632h4v1h-4zM730 633h4v1h-4zM734 634h8v1h-8zM742 633h1v2h-1zM743 632h1v1h-1zM744 630h1v2h-1zM745 629h1v1h-1zM746 627h1v2h-1zM747 625h1v2h-1zM748 624h1v1h-1zM749 622h1v2h-1zM750 622h1v1h-1zM751 621h4v1h-4zM755 620h4v1h-4zM759 619h1v1h-1zM760 618h1v1h-1zM761 617h2v1h-2zM763 616h1v1h-1zM764 615h1v1h-1zM765 614h2v1h-2zM767 613h1v1h-1zM768 612h2v1h-2zM770 611h2v1h-2zM772 610h1v1h-1zM773 609h5v1h-5zM778 610h6v1h-6zM784 609h4v1h-4zM788 608h3v1h-3zM791 609h1v1h-1zM792 610h2v1h-2zM794 611h2v1h-2zM796 612h1v1h-1zM797 613h2v1h-2zM799 614h3v1h-3zM802 615h3v1h-3zM805 616h9v1h-9zM814 615h1v2h-1zM815 614h1v1h-1zM816 613h1v1h-1zM817 612h1v1h-1zM818 611h1v1h-1zM819 610h1v1h-1zM820 609h1v1h-1zM821 608h1v1h-1zM822 607h1v2h-1zM823 607h1v1h-1zM824 606h4v1h-4zM828 605h6v1h-6zM834 606h5v1h-5zM839 605h1v1h-1zM840 604h2v1h-2zM842 603h2v1h-2zM844 602h1v1h-1zM845 601h2v1h-2zM847 602h2v1h-2zM849 603h3v1h-3zM852 604h2v1h-2zM854 604h1v2h-1zM855 604h5v1h-5zM860 603h3v1h-3zM863 602h1v1h-1zM864 601h1v1h-1zM865 600h1v1h-1zM866 599h1v1h-1zM867 598h1v1h-1zM868 597h1v1h-1zM869 596h3v1h-3zM872 595h3v1h-3zM875 594h12v1h-12zM887 595h1v1h-1zM888 596h1v2h-1zM889 598h1v1h-1zM890 599h1v1h-1zM891 600h1v1h-1zM892 601h1v1h-1zM893 602h1v1h-1zM894 603h10v1h-10zM904 602h4v1h-4zM908 601h2v1h-2zM910 600h1v2h-1zM911 600h1v1h-1zM912 598h1v2h-1zM913 598h1v1h-1zM914 596h1v2h-1zM915 596h1v1h-1zM916 594h1v2h-1zM917 594h1v1h-1zM918 593h1v2h-1zM919 592h1v1h-1zM920 591h2v1h-2zM922 590h2v1h-2zM924 589h1v1h-1zM925 588h2v1h-2zM927 589h3v1h-3zM930 590h3v1h-3zM933 591h8v1h-8zM941 592h1v1h-1zM942 591h1v2h-1zM943 591h3v1h-3zM946 590h4v1h-4zM950 589h1v2h-1zM951 589h3v1h-3zM954 588h3v1h-3zM957 587h1v1h-1zM958 587h1v2h-1zM959 589h1v1h-1zM960 590h1v1h-1zM961 591h1v2h-1zM962 593h1v1h-1zM963 594h1v1h-1zM964 595h1v2h-1zM965 597h1v1h-1zM966 598h1v1h-1zM967 599h1v2h-1zM968 601h1v1h-1zM969 602h1v1h-1zM970 603h1v2h-1zM971 605h1v1h-1zM972 606h1v1h-1zM973 607h1v1h-1zM974 608h1v1h-1zM975 607h2v1h-2zM977 606h2v1h-2zM979 605h2v1h-2zM981 604h4v1h-4zM985 605h6v1h-6zM991 604h2v1h-2zM993 603h2v1h-2zM995 602h2v1h-2zM997 601h9v1h-9zM1006 601h1v2h-1zM1007 603h1v2h-1zM1008 605h1v2h-1zM1009 607h1v2h-1zM1010 609h1v2h-1zM1011 611h1v2h-1zM1012 613h1v2h-1zM1013 615h1v2h-1zM1014 617h3v1h-3zM1017 618h8v1h-8zM1025 619h6v1h-6zM1031 618h1v1h-1zM1032 617h1v1h-1zM1033 616h2v1h-2zM1035 615h1v1h-1zM1036 614h1v1h-1zM1037 613h4v1h-4zM1041 614h5v1h-5zM1046 614h1v2h-1zM1047 616h1v1h-1zM1048 617h1v1h-1zM1049 618h1v1h-1zM1050 619h1v1h-1zM1051 620h1v1h-1zM1052 621h1v1h-1zM1053 622h2v1h-2zM1055 620h1v2h-1zM1056 619h1v1h-1zM1057 618h1v1h-1zM1058 617h1v1h-1zM1059 616h1v1h-1zM1060 614h1v2h-1zM1061 613h1v1h-1zM1062 612h1v2h-1zM1063 612h1v1h-1zM1064 611h3v1h-3zM1067 610h2v1h-2zM1069 609h5v1h-5zM1074 608h7v1h-7zM1081 609h4v1h-4zM1085 610h1v1h-1zM1086 609h1v2h-1zM1087 609h1v1h-1zM1088 608h3v1h-3zM1091 607h2v1h-2zM1093 606h3v1h-3zM1096 605h4v1h-4zM1100 604h6v1h-6zM1106 605h6v1h-6zM1112 604h4v1h-4zM1116 603h14v1h-14zM1130 602h5v1h-5zM1135 601h3v1h-3zM1138 600h2v1h-2zM1140 599h4v1h-4zM1144 600h3v1h-3zM1147 601h3v1h-3zM1150 602h2v1h-2zM1152 603h2v1h-2zM1154 604h3v1h-3zM1157 605h3v1h-3zM1160 604h4v1h-4zM1164 603h6v1h-6zM1170 602h5v1h-5z" fill="#1E90FF"/>
<rect x="5" y="6" width="1189" height="1" fill="#000"/>
<rect x="5" y="6" width="1" height="664" fill="#000"/>
<rect x="1193" y="6" width="1" height="664" fill="#000"/>
<rect x="5" y="433" width="1189" height="1" fill="#000"/>
<rect x="5" y="435" width="1189" height="1" fill="#000"/>
<rect x="5" y="550" width="1189" height="1" fill="#000"/>
<rect x="5" y="552" width="1189" height="1" fill="#000"/>
<rect x="5" y="669" width="1189" height="1" fill="#000"/>
<rect x="1194" y="668" width="1" height="1" fill="#000"/>
<rect x="1193" y="81" width="3" height="1" fill="#C0C0C0"/>
<rect x="5" y="78" width="1" height="2" fill="#00D000"/>
<rect x="5" y="151" width="1" height="2" fill="#4058E6"/>
<rect x="5" y="237" width="1" height="2" fill="#4058E6"/>
<rect x="5" y="322" width="1" height="2" fill="#4058E6"/>
<rect x="1193" y="78" width="1" height="2" fill="#00D000"/>
<rect x="1193" y="151" width="1" height="2" fill="#4058E6"/>
<rect x="1193" y="237" width="1" height="2" fill="#4058E6"/>
<rect x="1193" y="322" width="1" height="2" fill="#4058E6"/>
<rect x="1194" y="34" width="2" height="1" fill="#000"/>
<text x="1199.5" y="38" fill="#000" stroke="#000" textLength="31.5" lengthAdjust="spacingAndGlyphs">115.340</text>
<rect x="1194" y="67" width="2" height="1" fill="#000"/>
<text x="1199.5" y="71" fill="#000" stroke="#000" textLength="31.5" lengthAdjust="spacingAndGlyphs">114.020</text>
<rect x="1194" y="100" width="2" height="1" fill="#000"/>
<text x="1199.5" y="104" fill="#000" stroke="#000" textLength="31.5" lengthAdjust="spacingAndGlyphs">112.660</text>
<rect x="1194" y="133" width="2" height="1" fill="#000"/>
<text x="1199.5" y="137" fill="#000" stroke="#000" textLength="31.5" lengthAdjust="spacingAndGlyphs">111.300</text>
<rect x="1194" y="166" width="2" height="1" fill="#000"/>
<text x="1199.5" y="170" fill="#000" stroke="#000" textLength="31.5" lengthAdjust="spacingAndGlyphs">109.940</text>
<rect x="1194" y="199" width="2" height="1" fill="#000"/>
<text x="1199.5" y="203" fill="#000" stroke="#000" textLength="31.5" lengthAdjust="spacingAndGlyphs">108.580</text>
<rect x="1194" y="232" width="2" height="1" fill="#000"/>
<text x="1199.5" y="236" fill="#000" stroke="#000" textLength="31.5" lengthAdjust="spacingAndGlyphs">107.220</text>
<rect x="1194" y="265" width="2" height="1" fill="#000"/>
<text x="1199.5" y="269" fill="#000" stroke="#000" textLength="31.5" lengthAdjust="spacingAndGlyphs">105.900</text>
<rect x="1194" y="298" width="2" height="1" fill="#000"/>
<text x="1199.5" y="302" fill="#000" stroke="#000" textLength="31.5" lengthAdjust="spacingAndGlyphs">104.540</text>
<rect x="1194" y="331" width="2" height="1" fill="#000"/>
<text x="1199.5" y="335" fill="#000" stroke="#000" textLength="31.5" lengthAdjust="spacingAndGlyphs">103.180</text>
<rect x="1194" y="364" width="2" height="1" fill="#000"/>
<text x="1199.5" y="368" fill="#000" stroke="#000" textLength="31.5" lengthAdjust="spacingAndGlyphs">101.820</text>
<rect x="1194" y="397" width="2" height="1" fill="#000"/>
<text x="1199.5" y="401" fill="#000" stroke="#000" textLength="31.5" lengthAdjust="spacingAndGlyphs">100.460</text>
<rect x="1194" y="430" width="2" height="1" fill="#000"/>
<text x="1199.5" y="434" fill="#000" stroke="#000" textLength="26.6" lengthAdjust="spacingAndGlyphs">99.140</text>
<text x="1196" y="447" fill="#000" stroke="#000" textLength="29" lengthAdjust="spacingAndGlyphs">2.5514</text>
<rect x="1194" y="501" width="2" height="1" fill="#000"/>
<text x="1196" y="505" fill="#000" stroke="#000" textLength="18" lengthAdjust="spacingAndGlyphs">0.00</text>
<text x="1196.5" y="547" fill="#000" stroke="#000" textLength="30" lengthAdjust="spacingAndGlyphs">-1.8963</text>
<text x="1197" y="563" fill="#000" stroke="#000" textLength="13.6" lengthAdjust="spacingAndGlyphs">100</text>
<rect x="1194" y="588" width="2" height="1" fill="#000"/>
<text x="1197" y="592" fill="#000" stroke="#000" textLength="8.5" lengthAdjust="spacingAndGlyphs">70</text>
<rect x="1194" y="634" width="2" height="1" fill="#000"/>
<text x="1197" y="638" fill="#000" stroke="#000" textLength="8.5" lengthAdjust="spacingAndGlyphs">30</text>
<text x="1197" y="666" fill="#000" stroke="#000" textLength="4.4" lengthAdjust="spacingAndGlyphs">0</text>
<rect x="1196" y="76" width="39" height="11" fill="#000"/>
<text x="1200" y="85" fill="#fff" stroke="#fff" textLength="31.5" lengthAdjust="spacingAndGlyphs">113.429</text>
<rect x="1196" y="73" width="39" height="11" fill="#00D000"/>
<text x="1200" y="82" fill="#fff" stroke="#fff" textLength="31.5" lengthAdjust="spacingAndGlyphs">113.500</text>
<rect x="1196" y="146" width="39" height="11" fill="#4058E6"/>
<text x="1200" y="155" fill="#fff" stroke="#fff" textLength="31.5" lengthAdjust="spacingAndGlyphs">110.500</text>
<rect x="1196" y="232" width="39" height="11" fill="#4058E6"/>
<text x="1200" y="241" fill="#fff" stroke="#fff" textLength="31.5" lengthAdjust="spacingAndGlyphs">107.000</text>
<rect x="1196" y="317" width="39" height="11" fill="#4058E6"/>
<text x="1200" y="326" fill="#fff" stroke="#fff" textLength="31.5" lengthAdjust="spacingAndGlyphs">103.500</text>
<rect x="6" y="670" width="1" height="3" fill="#000"/>
<text x="5.3" y="682" fill="#000" stroke="#000" textLength="49.5" lengthAdjust="spacingAndGlyphs">19 Apr 2022</text>
<rect x="70" y="670" width="1" height="3" fill="#000"/>
<text x="68.5" y="682" fill="#000" stroke="#000" textLength="53.5" lengthAdjust="spacingAndGlyphs">20 Apr 16:00</text>
<rect x="134" y="670" width="1" height="3" fill="#000"/>
<text x="132.5" y="682" fill="#000" stroke="#000" textLength="53.5" lengthAdjust="spacingAndGlyphs">22 Apr 00:00</text>
<rect x="198" y="670" width="1" height="3" fill="#000"/>
<text x="196.5" y="682" fill="#000" stroke="#000" textLength="53.5" lengthAdjust="spacingAndGlyphs">25 Apr 08:00</text>
<rect x="262" y="670" width="1" height="3" fill="#000"/>
<text x="260.5" y="682" fill="#000" stroke="#000" textLength="53.5" lengthAdjust="spacingAndGlyphs">26 Apr 16:00</text>
<rect x="326" y="670" width="1" height="3" fill="#000"/>
<text x="324.5" y="682" fill="#000" stroke="#000" textLength="53.5" lengthAdjust="spacingAndGlyphs">28 Apr 04:00</text>
<rect x="390" y="670" width="1" height="3" fill="#000"/>
<text x="388.5" y="682" fill="#000" stroke="#000" textLength="53.5" lengthAdjust="spacingAndGlyphs">29 Apr 12:00</text>
<rect x="454" y="670" width="1" height="3" fill="#000"/>
<text x="452.5" y="682" fill="#000" stroke="#000" textLength="52.5" lengthAdjust="spacingAndGlyphs">2 May 20:00</text>
<rect x="518" y="670" width="1" height="3" fill="#000"/>
<text x="516.5" y="682" fill="#000" stroke="#000" textLength="52.5" lengthAdjust="spacingAndGlyphs">4 May 04:00</text>
<rect x="582" y="670" width="1" height="3" fill="#000"/>
<text x="580.5" y="682" fill="#000" stroke="#000" textLength="52.5" lengthAdjust="spacingAndGlyphs">5 May 12:00</text>
<rect x="646" y="670" width="1" height="3" fill="#000"/>
<text x="644.5" y="682" fill="#000" stroke="#000" textLength="52.5" lengthAdjust="spacingAndGlyphs">6 May 20:00</text>
<rect x="710" y="670" width="1" height="3" fill="#000"/>
<text x="708.5" y="682" fill="#000" stroke="#000" textLength="57.5" lengthAdjust="spacingAndGlyphs">10 May 04:00</text>
<rect x="774" y="670" width="1" height="3" fill="#000"/>
<text x="772.5" y="682" fill="#000" stroke="#000" textLength="57.5" lengthAdjust="spacingAndGlyphs">11 May 12:00</text>
<rect x="838" y="670" width="1" height="3" fill="#000"/>
<text x="836.5" y="682" fill="#000" stroke="#000" textLength="57.5" lengthAdjust="spacingAndGlyphs">12 May 20:00</text>
<rect x="902" y="670" width="1" height="3" fill="#000"/>
<text x="900.5" y="682" fill="#000" stroke="#000" textLength="57.5" lengthAdjust="spacingAndGlyphs">16 May 04:00</text>
<rect x="966" y="670" width="1" height="3" fill="#000"/>
<text x="964.5" y="682" fill="#000" stroke="#000" textLength="57.5" lengthAdjust="spacingAndGlyphs">17 May 12:00</text>
<rect x="1030" y="670" width="1" height="3" fill="#000"/>
<text x="1028.5" y="682" fill="#000" stroke="#000" textLength="57.5" lengthAdjust="spacingAndGlyphs">18 May 20:00</text>
<rect x="1094" y="670" width="1" height="3" fill="#000"/>
<text x="1092.5" y="682" fill="#000" stroke="#000" textLength="57.5" lengthAdjust="spacingAndGlyphs">20 May 04:00</text>
<rect x="1158" y="670" width="1" height="3" fill="#000"/>
<text x="1156.5" y="682" fill="#000" stroke="#000" textLength="57.5" lengthAdjust="spacingAndGlyphs">23 May 12:00</text>
<path d="M9,13 h7 l-3.5,4 z" fill="#000" shape-rendering="auto"/>
<text x="20.5" y="18" fill="#000" stroke="#000" textLength="43.5" lengthAdjust="spacingAndGlyphs">UKOil-,H4</text>
<text x="70.5" y="18" fill="#000" stroke="#000" textLength="31.5" lengthAdjust="spacingAndGlyphs">113.379</text>
<text x="106.8" y="18" fill="#000" stroke="#000" textLength="31.5" lengthAdjust="spacingAndGlyphs">113.609</text>
<text x="143.1" y="18" fill="#000" stroke="#000" textLength="31.5" lengthAdjust="spacingAndGlyphs">113.245</text>
<text x="179.39999999999998" y="18" fill="#000" stroke="#000" textLength="31.5" lengthAdjust="spacingAndGlyphs">113.429</text>
<text x="10" y="448" fill="#000" stroke="#000" textLength="65" lengthAdjust="spacingAndGlyphs">MACD(12,26,9)</text>
<text x="79" y="448" fill="#000" stroke="#000" textLength="26.5" lengthAdjust="spacingAndGlyphs">0.7132</text>
<text x="110" y="448" fill="#000" stroke="#000" textLength="27" lengthAdjust="spacingAndGlyphs">0.5833</text>
<text x="10" y="565" fill="#000" stroke="#000" textLength="66.6" lengthAdjust="spacingAndGlyphs">RSI(14) 57.4993</text>
</svg></body></html>
